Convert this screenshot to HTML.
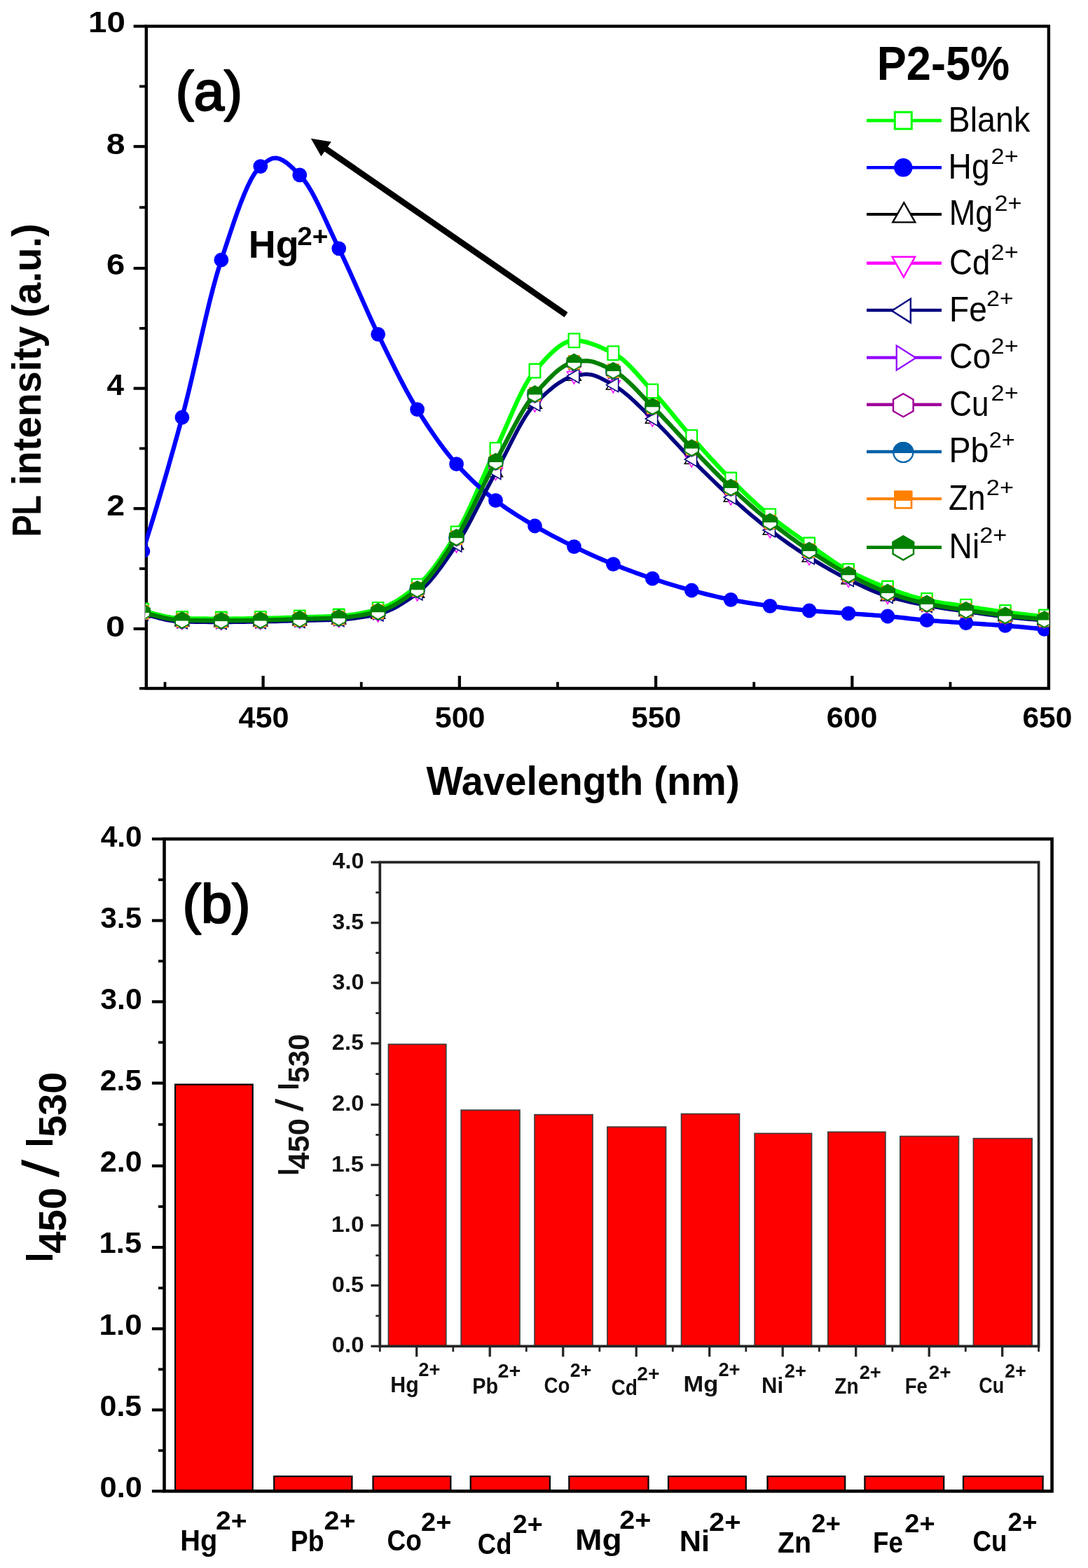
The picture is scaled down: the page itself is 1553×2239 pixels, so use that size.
<!DOCTYPE html>
<html lang="en">
<head>
<meta charset="utf-8">
<title>PL spectra and intensity ratio of P2-5% with metal ions</title>
<style>
html,body{margin:0;padding:0;background:#fff;}
svg{display:block;}
text{font-family:"Liberation Sans",sans-serif;}
</style>
</head>
<body>
<svg width="1553" height="2239" viewBox="0 0 1553 2239">
<rect x="0" y="0" width="1553" height="2239" fill="#fff"/>
<rect x="208.8" y="37.5" width="1288.1" height="945.5" fill="none" stroke="#000" stroke-width="4.4"/>
<line x1="199" y1="983" x2="208.8" y2="983" stroke="#000" stroke-width="3.8"/>
<line x1="190.6" y1="897.9" x2="208.8" y2="897.9" stroke="#000" stroke-width="4.2"/>
<line x1="199" y1="812.05" x2="208.8" y2="812.05" stroke="#000" stroke-width="3.8"/>
<line x1="190.6" y1="726.2" x2="208.8" y2="726.2" stroke="#000" stroke-width="4.2"/>
<line x1="199" y1="640.4" x2="208.8" y2="640.4" stroke="#000" stroke-width="3.8"/>
<line x1="190.6" y1="554.6" x2="208.8" y2="554.6" stroke="#000" stroke-width="4.2"/>
<line x1="199" y1="468.85" x2="208.8" y2="468.85" stroke="#000" stroke-width="3.8"/>
<line x1="190.6" y1="383.1" x2="208.8" y2="383.1" stroke="#000" stroke-width="4.2"/>
<line x1="199" y1="296.15" x2="208.8" y2="296.15" stroke="#000" stroke-width="3.8"/>
<line x1="190.6" y1="209.2" x2="208.8" y2="209.2" stroke="#000" stroke-width="4.2"/>
<line x1="199" y1="123.35" x2="208.8" y2="123.35" stroke="#000" stroke-width="3.8"/>
<line x1="190.6" y1="37.5" x2="208.8" y2="37.5" stroke="#000" stroke-width="4.2"/>
<line x1="235.48" y1="983" x2="235.48" y2="973.8" stroke="#000" stroke-width="3.8"/>
<line x1="375.6" y1="983" x2="375.6" y2="965" stroke="#000" stroke-width="4.2"/>
<line x1="515.73" y1="983" x2="515.73" y2="973.8" stroke="#000" stroke-width="3.8"/>
<line x1="655.85" y1="983" x2="655.85" y2="965" stroke="#000" stroke-width="4.2"/>
<line x1="795.98" y1="983" x2="795.98" y2="973.8" stroke="#000" stroke-width="3.8"/>
<line x1="936.1" y1="983" x2="936.1" y2="965" stroke="#000" stroke-width="4.2"/>
<line x1="1076.22" y1="983" x2="1076.22" y2="973.8" stroke="#000" stroke-width="3.8"/>
<line x1="1216.35" y1="983" x2="1216.35" y2="965" stroke="#000" stroke-width="4.2"/>
<line x1="1356.48" y1="983" x2="1356.48" y2="973.8" stroke="#000" stroke-width="3.8"/>
<defs><clipPath id="clipA"><rect x="207.6" y="39.5" width="1289.7" height="941.5"/></clipPath></defs>
<g clip-path="url(#clipA)" fill="none" stroke-linejoin="round">
<path d="M203.95,871.6 208.95,873.11 213.95,874.6 218.95,876.03 223.95,877.39 228.95,878.65 233.95,879.81 238.95,880.82 243.95,881.68 248.95,882.35 253.95,882.83 258.95,883.08 263.95,883.17 268.95,883.24 273.95,883.31 278.95,883.38 283.95,883.43 288.95,883.48 293.95,883.52 298.95,883.55 303.95,883.58 308.95,883.59 313.95,883.6 318.95,883.6 323.95,883.58 328.95,883.55 333.95,883.51 338.95,883.46 343.95,883.41 348.95,883.34 353.95,883.27 358.95,883.2 363.95,883.12 368.95,883.04 373.95,882.96 378.95,882.87 383.95,882.75 388.95,882.62 393.95,882.48 398.95,882.33 403.95,882.17 408.95,882.01 413.95,881.84 418.95,881.68 423.95,881.52 428.95,881.36 433.95,881.22 438.95,881.09 443.95,880.97 448.95,880.84 453.95,880.71 458.95,880.58 463.95,880.43 468.95,880.26 473.95,880.06 478.95,879.84 483.95,879.59 488.95,879.25 493.95,878.79 498.95,878.22 503.95,877.54 508.95,876.75 513.95,875.87 518.95,874.9 523.95,873.84 528.95,872.7 533.95,871.48 538.95,870.19 543.95,868.71 548.95,866.87 553.95,864.69 558.95,862.19 563.95,859.4 568.95,856.34 573.95,853.03 578.95,849.51 583.95,845.79 588.95,841.9 593.95,837.86 598.95,833.59 603.95,828.73 608.95,823.32 613.95,817.39 618.95,811.01 623.95,804.21 628.95,797.05 633.95,789.57 638.95,781.84 643.95,773.89 648.95,765.77 653.95,757.44 658.95,748.36 663.95,738.55 668.95,728.13 673.95,717.24 678.95,706.02 683.95,694.59 688.95,683.09 693.95,671.65 698.95,660.4 703.95,649.48 708.95,638.97 713.95,628.15 718.95,616.89 723.95,605.41 728.95,593.9 733.95,582.55 738.95,571.56 743.95,561.14 748.95,551.48 753.95,542.78 758.95,535.23 763.95,529.04 768.95,523.42 773.95,517.83 778.95,512.39 783.95,507.18 788.95,502.32 793.95,497.91 798.95,494.05 803.95,490.84 808.95,488.4 813.95,486.82 818.95,486.2 823.95,486.37 828.95,486.95 833.95,487.88 838.95,489.13 843.95,490.67 848.95,492.44 853.95,494.43 858.95,496.57 863.95,498.85 868.95,501.21 873.95,503.62 878.95,506.24 883.95,509.54 888.95,513.46 893.95,517.91 898.95,522.78 903.95,528 908.95,533.46 913.95,539.07 918.95,544.74 923.95,550.37 928.95,555.88 933.95,561.24 938.95,566.77 943.95,572.48 948.95,578.34 953.95,584.31 958.95,590.34 963.95,596.41 968.95,602.47 973.95,608.49 978.95,614.43 983.95,620.25 988.95,625.91 993.95,631.54 998.95,637.15 1003.95,642.73 1008.95,648.28 1013.95,653.79 1018.95,659.24 1023.95,664.63 1028.95,669.94 1033.95,675.18 1038.95,680.31 1043.95,685.35 1048.95,690.32 1053.95,695.25 1058.95,700.14 1063.95,704.96 1068.95,709.71 1073.95,714.39 1078.95,718.98 1083.95,723.48 1088.95,727.88 1093.95,732.17 1098.95,736.34 1103.95,740.38 1108.95,744.32 1113.95,748.15 1118.95,751.91 1123.95,755.59 1128.95,759.2 1133.95,762.77 1138.95,766.3 1143.95,769.81 1148.95,773.3 1153.95,776.8 1158.95,780.31 1163.95,783.88 1168.95,787.46 1173.95,791.04 1178.95,794.59 1183.95,798.09 1188.95,801.51 1193.95,804.82 1198.95,808 1203.95,811.03 1208.95,813.87 1213.95,816.52 1218.95,819.07 1223.95,821.54 1228.95,823.92 1233.95,826.21 1238.95,828.43 1243.95,830.57 1248.95,832.65 1253.95,834.65 1258.95,836.6 1263.95,838.48 1268.95,840.31 1273.95,842.12 1278.95,843.92 1283.95,845.68 1288.95,847.39 1293.95,849.05 1298.95,850.65 1303.95,852.16 1308.95,853.59 1313.95,854.91 1318.95,856.12 1323.95,857.21 1328.95,858.19 1333.95,859.11 1338.95,859.96 1343.95,860.75 1348.95,861.51 1353.95,862.24 1358.95,862.94 1363.95,863.64 1368.95,864.35 1373.95,865.06 1378.95,865.81 1383.95,866.57 1388.95,867.33 1393.95,868.1 1398.95,868.86 1403.95,869.62 1408.95,870.36 1413.95,871.1 1418.95,871.82 1423.95,872.53 1428.95,873.22 1433.95,873.88 1438.95,874.52 1443.95,875.14 1448.95,875.74 1453.95,876.33 1458.95,876.9 1463.95,877.47 1468.95,878.03 1473.95,878.59 1478.95,879.15 1483.95,879.71 1488.95,880.29 1493.95,880.87 1498.95,881.45" stroke="#00ff00" stroke-width="6.3"/>
<rect x="196.1" y="861.75" width="15.7" height="19.7" fill="#fff" stroke="#00ff00" stroke-width="2.3"/>
<rect x="252.05" y="873.25" width="15.7" height="19.7" fill="#fff" stroke="#00ff00" stroke-width="2.3"/>
<rect x="308" y="873.75" width="15.7" height="19.7" fill="#fff" stroke="#00ff00" stroke-width="2.3"/>
<rect x="363.95" y="873.15" width="15.7" height="19.7" fill="#fff" stroke="#00ff00" stroke-width="2.3"/>
<rect x="419.9" y="871.55" width="15.7" height="19.7" fill="#fff" stroke="#00ff00" stroke-width="2.3"/>
<rect x="475.85" y="869.75" width="15.7" height="19.7" fill="#fff" stroke="#00ff00" stroke-width="2.3"/>
<rect x="531.8" y="860.15" width="15.7" height="19.7" fill="#fff" stroke="#00ff00" stroke-width="2.3"/>
<rect x="587.75" y="826.65" width="15.7" height="19.7" fill="#fff" stroke="#00ff00" stroke-width="2.3"/>
<rect x="643.7" y="751.65" width="15.7" height="19.7" fill="#fff" stroke="#00ff00" stroke-width="2.3"/>
<rect x="699.65" y="632.15" width="15.7" height="19.7" fill="#fff" stroke="#00ff00" stroke-width="2.3"/>
<rect x="755.6" y="519.75" width="15.7" height="19.7" fill="#fff" stroke="#00ff00" stroke-width="2.3"/>
<rect x="811.55" y="476.35" width="15.7" height="19.7" fill="#fff" stroke="#00ff00" stroke-width="2.3"/>
<rect x="867.5" y="494.45" width="15.7" height="19.7" fill="#fff" stroke="#00ff00" stroke-width="2.3"/>
<rect x="923.45" y="548.55" width="15.7" height="19.7" fill="#fff" stroke="#00ff00" stroke-width="2.3"/>
<rect x="979.4" y="614.15" width="15.7" height="19.7" fill="#fff" stroke="#00ff00" stroke-width="2.3"/>
<rect x="1035.35" y="674.75" width="15.7" height="19.7" fill="#fff" stroke="#00ff00" stroke-width="2.3"/>
<rect x="1091.3" y="726.65" width="15.7" height="19.7" fill="#fff" stroke="#00ff00" stroke-width="2.3"/>
<rect x="1147.25" y="767.75" width="15.7" height="19.7" fill="#fff" stroke="#00ff00" stroke-width="2.3"/>
<rect x="1203.2" y="805.15" width="15.7" height="19.7" fill="#fff" stroke="#00ff00" stroke-width="2.3"/>
<rect x="1259.15" y="829.75" width="15.7" height="19.7" fill="#fff" stroke="#00ff00" stroke-width="2.3"/>
<rect x="1315.1" y="847.15" width="15.7" height="19.7" fill="#fff" stroke="#00ff00" stroke-width="2.3"/>
<rect x="1371.05" y="855.95" width="15.7" height="19.7" fill="#fff" stroke="#00ff00" stroke-width="2.3"/>
<rect x="1427" y="864.15" width="15.7" height="19.7" fill="#fff" stroke="#00ff00" stroke-width="2.3"/>
<rect x="1482.95" y="870.65" width="15.7" height="19.7" fill="#fff" stroke="#00ff00" stroke-width="2.3"/>
<path d="M203.95,787 208.95,771.3 213.95,755.31 218.95,739.04 223.95,722.49 228.95,705.68 233.95,688.61 238.95,671.28 243.95,653.69 248.95,635.87 253.95,617.8 258.95,599.5 263.95,580.59 268.95,560.46 273.95,539.42 278.95,517.79 283.95,495.9 288.95,474.06 293.95,452.6 298.95,431.85 303.95,412.12 308.95,393.75 313.95,377.04 318.95,361.87 323.95,346.71 328.95,331.62 333.95,316.83 338.95,302.56 343.95,289.02 348.95,276.46 353.95,265.09 358.95,255.13 363.95,246.81 368.95,240.36 373.95,235.79 378.95,231.75 383.95,228.38 388.95,226.18 393.95,225.64 398.95,226.71 403.95,229.05 408.95,232.4 413.95,236.52 418.95,241.16 423.95,246.06 428.95,251.01 433.95,256.94 438.95,264.11 443.95,272.36 448.95,281.51 453.95,291.36 458.95,301.75 463.95,312.48 468.95,323.39 473.95,334.28 478.95,344.98 483.95,355.31 488.95,365.63 493.95,376.31 498.95,387.26 503.95,398.42 508.95,409.7 513.95,421.04 518.95,432.35 523.95,443.56 528.95,454.6 533.95,465.39 538.95,475.86 543.95,486.11 548.95,496.36 553.95,506.58 558.95,516.72 563.95,526.74 568.95,536.61 573.95,546.27 578.95,555.68 583.95,564.8 588.95,573.59 593.95,582.01 598.95,590.08 603.95,597.97 608.95,605.7 613.95,613.24 618.95,620.59 623.95,627.72 628.95,634.64 633.95,641.31 638.95,647.73 643.95,653.88 648.95,659.76 653.95,665.36 658.95,670.75 663.95,675.97 668.95,681.02 673.95,685.9 678.95,690.62 683.95,695.18 688.95,699.59 693.95,703.85 698.95,707.97 703.95,711.95 708.95,715.8 713.95,719.51 718.95,723.09 723.95,726.54 728.95,729.89 733.95,733.14 738.95,736.31 743.95,739.41 748.95,742.44 753.95,745.42 758.95,748.37 763.95,751.29 768.95,754.17 773.95,757 778.95,759.77 783.95,762.5 788.95,765.18 793.95,767.81 798.95,770.4 803.95,772.95 808.95,775.46 813.95,777.94 818.95,780.38 823.95,782.79 828.95,785.17 833.95,787.52 838.95,789.84 843.95,792.12 848.95,794.37 853.95,796.58 858.95,798.75 863.95,800.89 868.95,802.98 873.95,805.03 878.95,807.05 883.95,809.03 888.95,810.98 893.95,812.9 898.95,814.78 903.95,816.64 908.95,818.46 913.95,820.25 918.95,822.01 923.95,823.73 928.95,825.42 933.95,827.07 938.95,828.7 943.95,830.31 948.95,831.89 953.95,833.44 958.95,834.96 963.95,836.45 968.95,837.92 973.95,839.35 978.95,840.75 983.95,842.12 988.95,843.45 993.95,844.77 998.95,846.07 1003.95,847.35 1008.95,848.61 1013.95,849.85 1018.95,851.05 1023.95,852.21 1028.95,853.34 1033.95,854.42 1038.95,855.46 1043.95,856.44 1048.95,857.39 1053.95,858.31 1058.95,859.19 1063.95,860.05 1068.95,860.88 1073.95,861.69 1078.95,862.47 1083.95,863.23 1088.95,863.96 1093.95,864.68 1098.95,865.37 1103.95,866.05 1108.95,866.72 1113.95,867.38 1118.95,868.03 1123.95,868.66 1128.95,869.26 1133.95,869.85 1138.95,870.41 1143.95,870.93 1148.95,871.43 1153.95,871.9 1158.95,872.33 1163.95,872.73 1168.95,873.1 1173.95,873.46 1178.95,873.79 1183.95,874.12 1188.95,874.44 1193.95,874.76 1198.95,875.08 1203.95,875.41 1208.95,875.75 1213.95,876.11 1218.95,876.46 1223.95,876.8 1228.95,877.15 1233.95,877.5 1238.95,877.85 1243.95,878.21 1248.95,878.57 1253.95,878.95 1258.95,879.34 1263.95,879.74 1268.95,880.17 1273.95,880.63 1278.95,881.13 1283.95,881.66 1288.95,882.2 1293.95,882.75 1298.95,883.31 1303.95,883.85 1308.95,884.38 1313.95,884.88 1318.95,885.35 1323.95,885.78 1328.95,886.18 1333.95,886.56 1338.95,886.92 1343.95,887.28 1348.95,887.62 1353.95,887.95 1358.95,888.28 1363.95,888.6 1368.95,888.93 1373.95,889.26 1378.95,889.6 1383.95,889.94 1388.95,890.28 1393.95,890.6 1398.95,890.93 1403.95,891.25 1408.95,891.58 1413.95,891.91 1418.95,892.25 1423.95,892.6 1428.95,892.96 1433.95,893.33 1438.95,893.72 1443.95,894.13 1448.95,894.55 1453.95,894.98 1458.95,895.42 1463.95,895.87 1468.95,896.33 1473.95,896.79 1478.95,897.24 1483.95,897.69 1488.95,898.14 1493.95,898.58 1498.95,899.01" stroke="#0000ff" stroke-width="6.3"/>
<circle cx="203.95" cy="787" r="10.4" fill="#0000ff"/>
<circle cx="259.9" cy="596" r="10.4" fill="#0000ff"/>
<circle cx="315.85" cy="371.2" r="10.4" fill="#0000ff"/>
<circle cx="371.8" cy="237.6" r="10.4" fill="#0000ff"/>
<circle cx="427.75" cy="249.8" r="10.4" fill="#0000ff"/>
<circle cx="483.7" cy="354.8" r="10.4" fill="#0000ff"/>
<circle cx="539.65" cy="477.3" r="10.4" fill="#0000ff"/>
<circle cx="595.6" cy="584.7" r="10.4" fill="#0000ff"/>
<circle cx="651.55" cy="662.7" r="10.4" fill="#0000ff"/>
<circle cx="707.5" cy="714.7" r="10.4" fill="#0000ff"/>
<circle cx="763.45" cy="751" r="10.4" fill="#0000ff"/>
<circle cx="819.4" cy="780.6" r="10.4" fill="#0000ff"/>
<circle cx="875.35" cy="805.6" r="10.4" fill="#0000ff"/>
<circle cx="931.3" cy="826.2" r="10.4" fill="#0000ff"/>
<circle cx="987.25" cy="843" r="10.4" fill="#0000ff"/>
<circle cx="1043.2" cy="856.3" r="10.4" fill="#0000ff"/>
<circle cx="1099.15" cy="865.4" r="10.4" fill="#0000ff"/>
<circle cx="1155.1" cy="872" r="10.4" fill="#0000ff"/>
<circle cx="1211.05" cy="875.9" r="10.4" fill="#0000ff"/>
<circle cx="1267" cy="880" r="10.4" fill="#0000ff"/>
<circle cx="1322.95" cy="885.7" r="10.4" fill="#0000ff"/>
<circle cx="1378.9" cy="889.6" r="10.4" fill="#0000ff"/>
<circle cx="1434.85" cy="893.4" r="10.4" fill="#0000ff"/>
<circle cx="1490.8" cy="898.3" r="10.4" fill="#0000ff"/>
<path d="M203.95,876 208.95,877.55 213.95,879.06 218.95,880.53 223.95,881.92 228.95,883.22 233.95,884.39 238.95,885.43 243.95,886.31 248.95,887.01 253.95,887.51 258.95,887.78 263.95,887.88 268.95,887.97 273.95,888.06 278.95,888.13 283.95,888.2 288.95,888.25 293.95,888.3 298.95,888.34 303.95,888.37 308.95,888.39 313.95,888.4 318.95,888.4 323.95,888.38 328.95,888.35 333.95,888.31 338.95,888.26 343.95,888.2 348.95,888.14 353.95,888.07 358.95,887.99 363.95,887.92 368.95,887.84 373.95,887.77 378.95,887.68 383.95,887.57 388.95,887.46 393.95,887.34 398.95,887.2 403.95,887.07 408.95,886.93 413.95,886.78 418.95,886.64 423.95,886.5 428.95,886.37 433.95,886.24 438.95,886.13 443.95,886.02 448.95,885.9 453.95,885.79 458.95,885.66 463.95,885.53 468.95,885.38 473.95,885.21 478.95,885.01 483.95,884.79 488.95,884.5 493.95,884.13 498.95,883.66 503.95,883.12 508.95,882.49 513.95,881.78 518.95,881 523.95,880.15 528.95,879.22 533.95,878.22 538.95,877.15 543.95,875.91 548.95,874.32 553.95,872.4 558.95,870.18 563.95,867.68 568.95,864.93 573.95,861.94 578.95,858.76 583.95,855.39 588.95,851.88 593.95,848.23 598.95,844.35 603.95,839.9 608.95,834.89 613.95,829.39 618.95,823.46 623.95,817.14 628.95,810.5 633.95,803.59 638.95,796.47 643.95,789.21 648.95,781.85 653.95,774.37 658.95,766.33 663.95,757.72 668.95,748.66 673.95,739.25 678.95,729.58 683.95,719.75 688.95,709.88 693.95,700.06 698.95,690.39 703.95,680.97 708.95,671.87 713.95,662.52 718.95,652.81 723.95,642.92 728.95,633 733.95,623.22 738.95,613.74 743.95,604.72 748.95,596.32 753.95,588.71 758.95,582.05 763.95,576.49 768.95,571.48 773.95,566.61 778.95,561.93 783.95,557.48 788.95,553.32 793.95,549.49 798.95,546.05 803.95,543.04 808.95,540.51 813.95,538.51 818.95,537.1 823.95,536.06 828.95,535.17 833.95,534.57 838.95,534.42 843.95,535.01 848.95,536.36 853.95,538.3 858.95,540.69 863.95,543.37 868.95,546.2 873.95,549.03 878.95,551.89 883.95,555.17 888.95,558.85 893.95,562.87 898.95,567.18 903.95,571.71 908.95,576.41 913.95,581.22 918.95,586.09 923.95,590.96 928.95,595.77 933.95,600.52 938.95,605.42 943.95,610.47 948.95,615.65 953.95,620.91 958.95,626.24 963.95,631.6 968.95,636.95 973.95,642.27 978.95,647.52 983.95,652.67 988.95,657.7 993.95,662.69 998.95,667.67 1003.95,672.64 1008.95,677.57 1013.95,682.47 1018.95,687.32 1023.95,692.12 1028.95,696.87 1033.95,701.55 1038.95,706.15 1043.95,710.67 1048.95,715.14 1053.95,719.57 1058.95,723.96 1063.95,728.3 1068.95,732.58 1073.95,736.81 1078.95,740.96 1083.95,745.05 1088.95,749.07 1093.95,753 1098.95,756.85 1103.95,760.62 1108.95,764.34 1113.95,768 1118.95,771.6 1123.95,775.14 1128.95,778.62 1133.95,782.04 1138.95,785.4 1143.95,788.69 1148.95,791.92 1153.95,795.08 1158.95,798.19 1163.95,801.25 1168.95,804.27 1173.95,807.25 1178.95,810.17 1183.95,813.04 1188.95,815.85 1193.95,818.59 1198.95,821.26 1203.95,823.85 1208.95,826.37 1213.95,828.81 1218.95,831.25 1223.95,833.67 1228.95,836.05 1233.95,838.38 1238.95,840.65 1243.95,842.83 1248.95,844.92 1253.95,846.89 1258.95,848.74 1263.95,850.44 1268.95,851.99 1273.95,853.44 1278.95,854.83 1283.95,856.14 1288.95,857.39 1293.95,858.59 1298.95,859.73 1303.95,860.82 1308.95,861.87 1313.95,862.88 1318.95,863.85 1323.95,864.79 1328.95,865.68 1333.95,866.54 1338.95,867.36 1343.95,868.15 1348.95,868.91 1353.95,869.65 1358.95,870.38 1363.95,871.09 1368.95,871.8 1373.95,872.5 1378.95,873.21 1383.95,873.92 1388.95,874.62 1393.95,875.32 1398.95,876.02 1403.95,876.7 1408.95,877.38 1413.95,878.03 1418.95,878.68 1423.95,879.3 1428.95,879.91 1433.95,880.5 1438.95,881.06 1443.95,881.6 1448.95,882.12 1453.95,882.63 1458.95,883.12 1463.95,883.61 1468.95,884.09 1473.95,884.56 1478.95,885.04 1483.95,885.52 1488.95,886.02 1493.95,886.52 1498.95,887.02" stroke="#000000" stroke-width="3"/>
<polygon points="203.95,865 213.91,882.25 193.99,882.25" fill="#fff" stroke="#000" stroke-width="1.5" stroke-linejoin="miter"/>
<polygon points="259.9,876.8 269.86,894.05 249.94,894.05" fill="#fff" stroke="#000" stroke-width="1.5" stroke-linejoin="miter"/>
<polygon points="315.85,877.4 325.81,894.65 305.89,894.65" fill="#fff" stroke="#000" stroke-width="1.5" stroke-linejoin="miter"/>
<polygon points="371.8,876.8 381.76,894.05 361.84,894.05" fill="#fff" stroke="#000" stroke-width="1.5" stroke-linejoin="miter"/>
<polygon points="427.75,875.4 437.71,892.65 417.79,892.65" fill="#fff" stroke="#000" stroke-width="1.5" stroke-linejoin="miter"/>
<polygon points="483.7,873.8 493.66,891.05 473.74,891.05" fill="#fff" stroke="#000" stroke-width="1.5" stroke-linejoin="miter"/>
<polygon points="539.65,866 549.61,883.25 529.69,883.25" fill="#fff" stroke="#000" stroke-width="1.5" stroke-linejoin="miter"/>
<polygon points="595.6,836 605.56,853.25 585.64,853.25" fill="#fff" stroke="#000" stroke-width="1.5" stroke-linejoin="miter"/>
<polygon points="651.55,767 661.51,784.25 641.59,784.25" fill="#fff" stroke="#000" stroke-width="1.5" stroke-linejoin="miter"/>
<polygon points="707.5,663.5 717.46,680.75 697.54,680.75" fill="#fff" stroke="#000" stroke-width="1.5" stroke-linejoin="miter"/>
<polygon points="763.45,566 773.41,583.25 753.49,583.25" fill="#fff" stroke="#000" stroke-width="1.5" stroke-linejoin="miter"/>
<polygon points="819.4,526 829.36,543.25 809.44,543.25" fill="#fff" stroke="#000" stroke-width="1.5" stroke-linejoin="miter"/>
<polygon points="875.35,538.8 885.31,556.05 865.39,556.05" fill="#fff" stroke="#000" stroke-width="1.5" stroke-linejoin="miter"/>
<polygon points="931.3,587 941.26,604.25 921.34,604.25" fill="#fff" stroke="#000" stroke-width="1.5" stroke-linejoin="miter"/>
<polygon points="987.25,645 997.21,662.25 977.29,662.25" fill="#fff" stroke="#000" stroke-width="1.5" stroke-linejoin="miter"/>
<polygon points="1043.2,699 1053.16,716.25 1033.24,716.25" fill="#fff" stroke="#000" stroke-width="1.5" stroke-linejoin="miter"/>
<polygon points="1099.15,746 1109.11,763.25 1089.19,763.25" fill="#fff" stroke="#000" stroke-width="1.5" stroke-linejoin="miter"/>
<polygon points="1155.1,784.8 1165.06,802.05 1145.14,802.05" fill="#fff" stroke="#000" stroke-width="1.5" stroke-linejoin="miter"/>
<polygon points="1211.05,816.4 1221.01,833.65 1201.09,833.65" fill="#fff" stroke="#000" stroke-width="1.5" stroke-linejoin="miter"/>
<polygon points="1267,840.4 1276.96,857.65 1257.04,857.65" fill="#fff" stroke="#000" stroke-width="1.5" stroke-linejoin="miter"/>
<polygon points="1322.95,853.6 1332.91,870.85 1312.99,870.85" fill="#fff" stroke="#000" stroke-width="1.5" stroke-linejoin="miter"/>
<polygon points="1378.9,862.2 1388.86,879.45 1368.94,879.45" fill="#fff" stroke="#000" stroke-width="1.5" stroke-linejoin="miter"/>
<polygon points="1434.85,869.6 1444.81,886.85 1424.89,886.85" fill="#fff" stroke="#000" stroke-width="1.5" stroke-linejoin="miter"/>
<polygon points="1490.8,875.2 1500.76,892.45 1480.84,892.45" fill="#fff" stroke="#000" stroke-width="1.5" stroke-linejoin="miter"/>
<path d="M203.95,876 208.95,877.55 213.95,879.06 218.95,880.53 223.95,881.92 228.95,883.22 233.95,884.39 238.95,885.43 243.95,886.31 248.95,887.01 253.95,887.51 258.95,887.78 263.95,887.88 268.95,887.97 273.95,888.06 278.95,888.13 283.95,888.2 288.95,888.25 293.95,888.3 298.95,888.34 303.95,888.37 308.95,888.39 313.95,888.4 318.95,888.4 323.95,888.38 328.95,888.35 333.95,888.31 338.95,888.26 343.95,888.2 348.95,888.14 353.95,888.07 358.95,887.99 363.95,887.92 368.95,887.84 373.95,887.77 378.95,887.68 383.95,887.57 388.95,887.46 393.95,887.34 398.95,887.2 403.95,887.07 408.95,886.93 413.95,886.78 418.95,886.64 423.95,886.5 428.95,886.37 433.95,886.24 438.95,886.13 443.95,886.02 448.95,885.9 453.95,885.79 458.95,885.66 463.95,885.53 468.95,885.38 473.95,885.21 478.95,885.01 483.95,884.79 488.95,884.5 493.95,884.13 498.95,883.66 503.95,883.12 508.95,882.49 513.95,881.78 518.95,881 523.95,880.15 528.95,879.22 533.95,878.22 538.95,877.15 543.95,875.91 548.95,874.32 553.95,872.4 558.95,870.18 563.95,867.68 568.95,864.93 573.95,861.94 578.95,858.76 583.95,855.39 588.95,851.88 593.95,848.23 598.95,844.35 603.95,839.9 608.95,834.89 613.95,829.39 618.95,823.46 623.95,817.14 628.95,810.5 633.95,803.59 638.95,796.47 643.95,789.21 648.95,781.85 653.95,774.37 658.95,766.33 663.95,757.72 668.95,748.66 673.95,739.25 678.95,729.58 683.95,719.75 688.95,709.88 693.95,700.06 698.95,690.39 703.95,680.97 708.95,671.87 713.95,662.52 718.95,652.81 723.95,642.92 728.95,633 733.95,623.22 738.95,613.74 743.95,604.72 748.95,596.32 753.95,588.71 758.95,582.05 763.95,576.49 768.95,571.48 773.95,566.61 778.95,561.93 783.95,557.48 788.95,553.32 793.95,549.49 798.95,546.05 803.95,543.04 808.95,540.51 813.95,538.51 818.95,537.1 823.95,536.06 828.95,535.17 833.95,534.57 838.95,534.42 843.95,535.01 848.95,536.36 853.95,538.3 858.95,540.69 863.95,543.37 868.95,546.2 873.95,549.03 878.95,551.89 883.95,555.17 888.95,558.85 893.95,562.87 898.95,567.18 903.95,571.71 908.95,576.41 913.95,581.22 918.95,586.09 923.95,590.96 928.95,595.77 933.95,600.52 938.95,605.42 943.95,610.47 948.95,615.65 953.95,620.91 958.95,626.24 963.95,631.6 968.95,636.95 973.95,642.27 978.95,647.52 983.95,652.67 988.95,657.7 993.95,662.69 998.95,667.67 1003.95,672.64 1008.95,677.57 1013.95,682.47 1018.95,687.32 1023.95,692.12 1028.95,696.87 1033.95,701.55 1038.95,706.15 1043.95,710.67 1048.95,715.14 1053.95,719.57 1058.95,723.96 1063.95,728.3 1068.95,732.58 1073.95,736.81 1078.95,740.96 1083.95,745.05 1088.95,749.07 1093.95,753 1098.95,756.85 1103.95,760.62 1108.95,764.34 1113.95,768 1118.95,771.6 1123.95,775.14 1128.95,778.62 1133.95,782.04 1138.95,785.4 1143.95,788.69 1148.95,791.92 1153.95,795.08 1158.95,798.19 1163.95,801.25 1168.95,804.27 1173.95,807.25 1178.95,810.17 1183.95,813.04 1188.95,815.85 1193.95,818.59 1198.95,821.26 1203.95,823.85 1208.95,826.37 1213.95,828.81 1218.95,831.25 1223.95,833.67 1228.95,836.05 1233.95,838.38 1238.95,840.65 1243.95,842.83 1248.95,844.92 1253.95,846.89 1258.95,848.74 1263.95,850.44 1268.95,851.99 1273.95,853.44 1278.95,854.83 1283.95,856.14 1288.95,857.39 1293.95,858.59 1298.95,859.73 1303.95,860.82 1308.95,861.87 1313.95,862.88 1318.95,863.85 1323.95,864.79 1328.95,865.68 1333.95,866.54 1338.95,867.36 1343.95,868.15 1348.95,868.91 1353.95,869.65 1358.95,870.38 1363.95,871.09 1368.95,871.8 1373.95,872.5 1378.95,873.21 1383.95,873.92 1388.95,874.62 1393.95,875.32 1398.95,876.02 1403.95,876.7 1408.95,877.38 1413.95,878.03 1418.95,878.68 1423.95,879.3 1428.95,879.91 1433.95,880.5 1438.95,881.06 1443.95,881.6 1448.95,882.12 1453.95,882.63 1458.95,883.12 1463.95,883.61 1468.95,884.09 1473.95,884.56 1478.95,885.04 1483.95,885.52 1488.95,886.02 1493.95,886.52 1498.95,887.02" stroke="#ff00ff" stroke-width="3"/>
<polygon points="203.95,887 193.99,869.75 213.91,869.75" fill="#fff" stroke="#ff00ff" stroke-width="1.5" stroke-linejoin="miter"/>
<polygon points="259.9,898.8 249.94,881.55 269.86,881.55" fill="#fff" stroke="#ff00ff" stroke-width="1.5" stroke-linejoin="miter"/>
<polygon points="315.85,899.4 305.89,882.15 325.81,882.15" fill="#fff" stroke="#ff00ff" stroke-width="1.5" stroke-linejoin="miter"/>
<polygon points="371.8,898.8 361.84,881.55 381.76,881.55" fill="#fff" stroke="#ff00ff" stroke-width="1.5" stroke-linejoin="miter"/>
<polygon points="427.75,897.4 417.79,880.15 437.71,880.15" fill="#fff" stroke="#ff00ff" stroke-width="1.5" stroke-linejoin="miter"/>
<polygon points="483.7,895.8 473.74,878.55 493.66,878.55" fill="#fff" stroke="#ff00ff" stroke-width="1.5" stroke-linejoin="miter"/>
<polygon points="539.65,888 529.69,870.75 549.61,870.75" fill="#fff" stroke="#ff00ff" stroke-width="1.5" stroke-linejoin="miter"/>
<polygon points="595.6,858 585.64,840.75 605.56,840.75" fill="#fff" stroke="#ff00ff" stroke-width="1.5" stroke-linejoin="miter"/>
<polygon points="651.55,789 641.59,771.75 661.51,771.75" fill="#fff" stroke="#ff00ff" stroke-width="1.5" stroke-linejoin="miter"/>
<polygon points="707.5,685.5 697.54,668.25 717.46,668.25" fill="#fff" stroke="#ff00ff" stroke-width="1.5" stroke-linejoin="miter"/>
<polygon points="763.45,588 753.49,570.75 773.41,570.75" fill="#fff" stroke="#ff00ff" stroke-width="1.5" stroke-linejoin="miter"/>
<polygon points="819.4,548 809.44,530.75 829.36,530.75" fill="#fff" stroke="#ff00ff" stroke-width="1.5" stroke-linejoin="miter"/>
<polygon points="875.35,560.8 865.39,543.55 885.31,543.55" fill="#fff" stroke="#ff00ff" stroke-width="1.5" stroke-linejoin="miter"/>
<polygon points="931.3,609 921.34,591.75 941.26,591.75" fill="#fff" stroke="#ff00ff" stroke-width="1.5" stroke-linejoin="miter"/>
<polygon points="987.25,667 977.29,649.75 997.21,649.75" fill="#fff" stroke="#ff00ff" stroke-width="1.5" stroke-linejoin="miter"/>
<polygon points="1043.2,721 1033.24,703.75 1053.16,703.75" fill="#fff" stroke="#ff00ff" stroke-width="1.5" stroke-linejoin="miter"/>
<polygon points="1099.15,768 1089.19,750.75 1109.11,750.75" fill="#fff" stroke="#ff00ff" stroke-width="1.5" stroke-linejoin="miter"/>
<polygon points="1155.1,806.8 1145.14,789.55 1165.06,789.55" fill="#fff" stroke="#ff00ff" stroke-width="1.5" stroke-linejoin="miter"/>
<polygon points="1211.05,838.4 1201.09,821.15 1221.01,821.15" fill="#fff" stroke="#ff00ff" stroke-width="1.5" stroke-linejoin="miter"/>
<polygon points="1267,862.4 1257.04,845.15 1276.96,845.15" fill="#fff" stroke="#ff00ff" stroke-width="1.5" stroke-linejoin="miter"/>
<polygon points="1322.95,875.6 1312.99,858.35 1332.91,858.35" fill="#fff" stroke="#ff00ff" stroke-width="1.5" stroke-linejoin="miter"/>
<polygon points="1378.9,884.2 1368.94,866.95 1388.86,866.95" fill="#fff" stroke="#ff00ff" stroke-width="1.5" stroke-linejoin="miter"/>
<polygon points="1434.85,891.6 1424.89,874.35 1444.81,874.35" fill="#fff" stroke="#ff00ff" stroke-width="1.5" stroke-linejoin="miter"/>
<polygon points="1490.8,897.2 1480.84,879.95 1500.76,879.95" fill="#fff" stroke="#ff00ff" stroke-width="1.5" stroke-linejoin="miter"/>
<path d="M203.95,876 208.95,877.55 213.95,879.06 218.95,880.53 223.95,881.92 228.95,883.22 233.95,884.39 238.95,885.43 243.95,886.31 248.95,887.01 253.95,887.51 258.95,887.78 263.95,887.88 268.95,887.97 273.95,888.06 278.95,888.13 283.95,888.2 288.95,888.25 293.95,888.3 298.95,888.34 303.95,888.37 308.95,888.39 313.95,888.4 318.95,888.4 323.95,888.38 328.95,888.35 333.95,888.31 338.95,888.26 343.95,888.2 348.95,888.14 353.95,888.07 358.95,887.99 363.95,887.92 368.95,887.84 373.95,887.77 378.95,887.68 383.95,887.57 388.95,887.46 393.95,887.34 398.95,887.2 403.95,887.07 408.95,886.93 413.95,886.78 418.95,886.64 423.95,886.5 428.95,886.37 433.95,886.24 438.95,886.13 443.95,886.02 448.95,885.9 453.95,885.79 458.95,885.66 463.95,885.53 468.95,885.38 473.95,885.21 478.95,885.01 483.95,884.79 488.95,884.5 493.95,884.13 498.95,883.66 503.95,883.12 508.95,882.49 513.95,881.78 518.95,881 523.95,880.15 528.95,879.22 533.95,878.22 538.95,877.15 543.95,875.91 548.95,874.32 553.95,872.4 558.95,870.18 563.95,867.68 568.95,864.93 573.95,861.94 578.95,858.76 583.95,855.39 588.95,851.88 593.95,848.23 598.95,844.35 603.95,839.9 608.95,834.89 613.95,829.39 618.95,823.46 623.95,817.14 628.95,810.5 633.95,803.59 638.95,796.47 643.95,789.21 648.95,781.85 653.95,774.37 658.95,766.33 663.95,757.72 668.95,748.66 673.95,739.25 678.95,729.58 683.95,719.75 688.95,709.88 693.95,700.06 698.95,690.39 703.95,680.97 708.95,671.87 713.95,662.52 718.95,652.81 723.95,642.92 728.95,633 733.95,623.22 738.95,613.74 743.95,604.72 748.95,596.32 753.95,588.71 758.95,582.05 763.95,576.49 768.95,571.48 773.95,566.61 778.95,561.93 783.95,557.48 788.95,553.32 793.95,549.49 798.95,546.05 803.95,543.04 808.95,540.51 813.95,538.51 818.95,537.1 823.95,536.06 828.95,535.17 833.95,534.57 838.95,534.42 843.95,535.01 848.95,536.36 853.95,538.3 858.95,540.69 863.95,543.37 868.95,546.2 873.95,549.03 878.95,551.89 883.95,555.17 888.95,558.85 893.95,562.87 898.95,567.18 903.95,571.71 908.95,576.41 913.95,581.22 918.95,586.09 923.95,590.96 928.95,595.77 933.95,600.52 938.95,605.42 943.95,610.47 948.95,615.65 953.95,620.91 958.95,626.24 963.95,631.6 968.95,636.95 973.95,642.27 978.95,647.52 983.95,652.67 988.95,657.7 993.95,662.69 998.95,667.67 1003.95,672.64 1008.95,677.57 1013.95,682.47 1018.95,687.32 1023.95,692.12 1028.95,696.87 1033.95,701.55 1038.95,706.15 1043.95,710.67 1048.95,715.14 1053.95,719.57 1058.95,723.96 1063.95,728.3 1068.95,732.58 1073.95,736.81 1078.95,740.96 1083.95,745.05 1088.95,749.07 1093.95,753 1098.95,756.85 1103.95,760.62 1108.95,764.34 1113.95,768 1118.95,771.6 1123.95,775.14 1128.95,778.62 1133.95,782.04 1138.95,785.4 1143.95,788.69 1148.95,791.92 1153.95,795.08 1158.95,798.19 1163.95,801.25 1168.95,804.27 1173.95,807.25 1178.95,810.17 1183.95,813.04 1188.95,815.85 1193.95,818.59 1198.95,821.26 1203.95,823.85 1208.95,826.37 1213.95,828.81 1218.95,831.25 1223.95,833.67 1228.95,836.05 1233.95,838.38 1238.95,840.65 1243.95,842.83 1248.95,844.92 1253.95,846.89 1258.95,848.74 1263.95,850.44 1268.95,851.99 1273.95,853.44 1278.95,854.83 1283.95,856.14 1288.95,857.39 1293.95,858.59 1298.95,859.73 1303.95,860.82 1308.95,861.87 1313.95,862.88 1318.95,863.85 1323.95,864.79 1328.95,865.68 1333.95,866.54 1338.95,867.36 1343.95,868.15 1348.95,868.91 1353.95,869.65 1358.95,870.38 1363.95,871.09 1368.95,871.8 1373.95,872.5 1378.95,873.21 1383.95,873.92 1388.95,874.62 1393.95,875.32 1398.95,876.02 1403.95,876.7 1408.95,877.38 1413.95,878.03 1418.95,878.68 1423.95,879.3 1428.95,879.91 1433.95,880.5 1438.95,881.06 1443.95,881.6 1448.95,882.12 1453.95,882.63 1458.95,883.12 1463.95,883.61 1468.95,884.09 1473.95,884.56 1478.95,885.04 1483.95,885.52 1488.95,886.02 1493.95,886.52 1498.95,887.02" stroke="#000080" stroke-width="5.6"/>
<polygon points="193.95,876 211.2,866.04 211.2,885.96" fill="#fff" stroke="#000080" stroke-width="1.5" stroke-linejoin="miter"/>
<polygon points="249.9,887.8 267.15,877.84 267.15,897.76" fill="#fff" stroke="#000080" stroke-width="1.5" stroke-linejoin="miter"/>
<polygon points="305.85,888.4 323.1,878.44 323.1,898.36" fill="#fff" stroke="#000080" stroke-width="1.5" stroke-linejoin="miter"/>
<polygon points="361.8,887.8 379.05,877.84 379.05,897.76" fill="#fff" stroke="#000080" stroke-width="1.5" stroke-linejoin="miter"/>
<polygon points="417.75,886.4 435,876.44 435,896.36" fill="#fff" stroke="#000080" stroke-width="1.5" stroke-linejoin="miter"/>
<polygon points="473.7,884.8 490.95,874.84 490.95,894.76" fill="#fff" stroke="#000080" stroke-width="1.5" stroke-linejoin="miter"/>
<polygon points="529.65,877 546.9,867.04 546.9,886.96" fill="#fff" stroke="#000080" stroke-width="1.5" stroke-linejoin="miter"/>
<polygon points="585.6,847 602.85,837.04 602.85,856.96" fill="#fff" stroke="#000080" stroke-width="1.5" stroke-linejoin="miter"/>
<polygon points="641.55,778 658.8,768.04 658.8,787.96" fill="#fff" stroke="#000080" stroke-width="1.5" stroke-linejoin="miter"/>
<polygon points="697.5,674.5 714.75,664.54 714.75,684.46" fill="#fff" stroke="#000080" stroke-width="1.5" stroke-linejoin="miter"/>
<polygon points="753.45,577 770.7,567.04 770.7,586.96" fill="#fff" stroke="#000080" stroke-width="1.5" stroke-linejoin="miter"/>
<polygon points="809.4,537 826.65,527.04 826.65,546.96" fill="#fff" stroke="#000080" stroke-width="1.5" stroke-linejoin="miter"/>
<polygon points="865.35,549.8 882.6,539.84 882.6,559.76" fill="#fff" stroke="#000080" stroke-width="1.5" stroke-linejoin="miter"/>
<polygon points="921.3,598 938.55,588.04 938.55,607.96" fill="#fff" stroke="#000080" stroke-width="1.5" stroke-linejoin="miter"/>
<polygon points="977.25,656 994.5,646.04 994.5,665.96" fill="#fff" stroke="#000080" stroke-width="1.5" stroke-linejoin="miter"/>
<polygon points="1033.2,710 1050.45,700.04 1050.45,719.96" fill="#fff" stroke="#000080" stroke-width="1.5" stroke-linejoin="miter"/>
<polygon points="1089.15,757 1106.4,747.04 1106.4,766.96" fill="#fff" stroke="#000080" stroke-width="1.5" stroke-linejoin="miter"/>
<polygon points="1145.1,795.8 1162.35,785.84 1162.35,805.76" fill="#fff" stroke="#000080" stroke-width="1.5" stroke-linejoin="miter"/>
<polygon points="1201.05,827.4 1218.3,817.44 1218.3,837.36" fill="#fff" stroke="#000080" stroke-width="1.5" stroke-linejoin="miter"/>
<polygon points="1257,851.4 1274.25,841.44 1274.25,861.36" fill="#fff" stroke="#000080" stroke-width="1.5" stroke-linejoin="miter"/>
<polygon points="1312.95,864.6 1330.2,854.64 1330.2,874.56" fill="#fff" stroke="#000080" stroke-width="1.5" stroke-linejoin="miter"/>
<polygon points="1368.9,873.2 1386.15,863.24 1386.15,883.16" fill="#fff" stroke="#000080" stroke-width="1.5" stroke-linejoin="miter"/>
<polygon points="1424.85,880.6 1442.1,870.64 1442.1,890.56" fill="#fff" stroke="#000080" stroke-width="1.5" stroke-linejoin="miter"/>
<polygon points="1480.8,886.2 1498.05,876.24 1498.05,896.16" fill="#fff" stroke="#000080" stroke-width="1.5" stroke-linejoin="miter"/>
<path d="M203.95,874 208.95,875.52 213.95,877.01 218.95,878.45 223.95,879.82 228.95,881.09 233.95,882.25 238.95,883.27 243.95,884.14 248.95,884.82 253.95,885.31 258.95,885.58 263.95,885.68 268.95,885.77 273.95,885.86 278.95,885.93 283.95,886 288.95,886.05 293.95,886.1 298.95,886.14 303.95,886.17 308.95,886.19 313.95,886.2 318.95,886.2 323.95,886.18 328.95,886.15 333.95,886.11 338.95,886.06 343.95,886.01 348.95,885.94 353.95,885.87 358.95,885.8 363.95,885.72 368.95,885.64 373.95,885.56 378.95,885.47 383.95,885.35 388.95,885.22 393.95,885.08 398.95,884.93 403.95,884.77 408.95,884.61 413.95,884.44 418.95,884.28 423.95,884.12 428.95,883.96 433.95,883.82 438.95,883.69 443.95,883.57 448.95,883.44 453.95,883.31 458.95,883.17 463.95,883.02 468.95,882.85 473.95,882.66 478.95,882.44 483.95,882.19 488.95,881.86 493.95,881.43 498.95,880.9 503.95,880.27 508.95,879.55 513.95,878.74 518.95,877.84 523.95,876.86 528.95,875.81 533.95,874.67 538.95,873.47 543.95,872.09 548.95,870.36 553.95,868.3 558.95,865.92 563.95,863.26 568.95,860.34 573.95,857.18 578.95,853.81 583.95,850.24 588.95,846.5 593.95,842.61 598.95,838.47 603.95,833.69 608.95,828.32 613.95,822.4 618.95,816.02 623.95,809.23 628.95,802.1 633.95,794.7 638.95,787.08 643.95,779.32 648.95,771.49 653.95,763.55 658.95,755.01 663.95,745.89 668.95,736.29 673.95,726.34 678.95,716.15 683.95,705.83 688.95,695.51 693.95,685.28 698.95,675.27 703.95,665.6 708.95,656.34 713.95,646.97 718.95,637.39 723.95,627.72 728.95,618.09 733.95,608.62 738.95,599.43 743.95,590.65 748.95,582.4 753.95,574.8 758.95,567.97 763.95,562.05 768.95,556.5 773.95,550.99 778.95,545.6 783.95,540.41 788.95,535.52 793.95,531.01 798.95,526.96 803.95,523.45 808.95,520.58 813.95,518.43 818.95,517.08 823.95,516.27 828.95,515.61 833.95,515.24 838.95,515.32 843.95,516.04 848.95,517.32 853.95,519.06 858.95,521.14 863.95,523.48 868.95,525.97 873.95,528.5 878.95,531.17 883.95,534.44 888.95,538.24 893.95,542.51 898.95,547.14 903.95,552.06 908.95,557.19 913.95,562.44 918.95,567.72 923.95,572.96 928.95,578.07 933.95,583.02 938.95,588.07 943.95,593.24 948.95,598.51 953.95,603.85 958.95,609.24 963.95,614.65 968.95,620.06 973.95,625.45 978.95,630.8 983.95,636.07 988.95,641.26 993.95,646.43 998.95,651.62 1003.95,656.8 1008.95,661.97 1013.95,667.11 1018.95,672.21 1023.95,677.25 1028.95,682.24 1033.95,687.15 1038.95,691.98 1043.95,696.7 1048.95,701.37 1053.95,705.98 1058.95,710.55 1063.95,715.06 1068.95,719.52 1073.95,723.91 1078.95,728.24 1083.95,732.5 1088.95,736.69 1093.95,740.81 1098.95,744.84 1103.95,748.8 1108.95,752.71 1113.95,756.55 1118.95,760.34 1123.95,764.07 1128.95,767.74 1133.95,771.35 1138.95,774.91 1143.95,778.4 1148.95,781.85 1153.95,785.23 1158.95,788.57 1163.95,791.89 1168.95,795.17 1173.95,798.42 1178.95,801.61 1183.95,804.75 1188.95,807.83 1193.95,810.83 1198.95,813.74 1203.95,816.57 1208.95,819.29 1213.95,821.92 1218.95,824.51 1223.95,827.06 1228.95,829.56 1233.95,832 1238.95,834.37 1243.95,836.67 1248.95,838.88 1253.95,841 1258.95,843.01 1263.95,844.9 1268.95,846.68 1273.95,848.4 1278.95,850.06 1283.95,851.67 1288.95,853.22 1293.95,854.7 1298.95,856.13 1303.95,857.49 1308.95,858.78 1313.95,860 1318.95,861.14 1323.95,862.21 1328.95,863.21 1333.95,864.15 1338.95,865.04 1343.95,865.89 1348.95,866.71 1353.95,867.49 1358.95,868.25 1363.95,869 1368.95,869.73 1373.95,870.47 1378.95,871.21 1383.95,871.95 1388.95,872.68 1393.95,873.4 1398.95,874.11 1403.95,874.81 1408.95,875.5 1413.95,876.17 1418.95,876.83 1423.95,877.47 1428.95,878.09 1433.95,878.69 1438.95,879.27 1443.95,879.83 1448.95,880.37 1453.95,880.9 1458.95,881.41 1463.95,881.91 1468.95,882.41 1473.95,882.9 1478.95,883.4 1483.95,883.9 1488.95,884.41 1493.95,884.93 1498.95,885.44" stroke="#8000ff" stroke-width="3.5"/>
<polygon points="213.45,876 196.95,885.53 196.95,866.47" fill="#fff" stroke="#8000ff" stroke-width="1.5" stroke-linejoin="miter"/>
<polygon points="269.4,887.6 252.9,897.13 252.9,878.07" fill="#fff" stroke="#8000ff" stroke-width="1.5" stroke-linejoin="miter"/>
<polygon points="325.35,888.2 308.85,897.73 308.85,878.67" fill="#fff" stroke="#8000ff" stroke-width="1.5" stroke-linejoin="miter"/>
<polygon points="381.3,887.6 364.8,897.13 364.8,878.07" fill="#fff" stroke="#8000ff" stroke-width="1.5" stroke-linejoin="miter"/>
<polygon points="437.25,886 420.75,895.53 420.75,876.47" fill="#fff" stroke="#8000ff" stroke-width="1.5" stroke-linejoin="miter"/>
<polygon points="493.2,884.2 476.7,893.73 476.7,874.67" fill="#fff" stroke="#8000ff" stroke-width="1.5" stroke-linejoin="miter"/>
<polygon points="549.15,875.3 532.65,884.83 532.65,865.77" fill="#fff" stroke="#8000ff" stroke-width="1.5" stroke-linejoin="miter"/>
<polygon points="605.1,843.3 588.6,852.83 588.6,833.77" fill="#fff" stroke="#8000ff" stroke-width="1.5" stroke-linejoin="miter"/>
<polygon points="661.05,769.4 644.55,778.93 644.55,759.87" fill="#fff" stroke="#8000ff" stroke-width="1.5" stroke-linejoin="miter"/>
<polygon points="717,661 700.5,670.53 700.5,651.47" fill="#fff" stroke="#8000ff" stroke-width="1.5" stroke-linejoin="miter"/>
<polygon points="772.95,564.6 756.45,574.13 756.45,555.07" fill="#fff" stroke="#8000ff" stroke-width="1.5" stroke-linejoin="miter"/>
<polygon points="828.9,519 812.4,528.53 812.4,509.47" fill="#fff" stroke="#8000ff" stroke-width="1.5" stroke-linejoin="miter"/>
<polygon points="884.85,531.2 868.35,540.73 868.35,521.67" fill="#fff" stroke="#8000ff" stroke-width="1.5" stroke-linejoin="miter"/>
<polygon points="940.8,582.4 924.3,591.93 924.3,572.87" fill="#fff" stroke="#8000ff" stroke-width="1.5" stroke-linejoin="miter"/>
<polygon points="996.75,641.5 980.25,651.03 980.25,631.97" fill="#fff" stroke="#8000ff" stroke-width="1.5" stroke-linejoin="miter"/>
<polygon points="1052.7,698 1036.2,707.53 1036.2,688.47" fill="#fff" stroke="#8000ff" stroke-width="1.5" stroke-linejoin="miter"/>
<polygon points="1108.65,747 1092.15,756.53 1092.15,737.47" fill="#fff" stroke="#8000ff" stroke-width="1.5" stroke-linejoin="miter"/>
<polygon points="1164.6,788 1148.1,797.53 1148.1,778.47" fill="#fff" stroke="#8000ff" stroke-width="1.5" stroke-linejoin="miter"/>
<polygon points="1220.55,822.4 1204.05,831.93 1204.05,812.87" fill="#fff" stroke="#8000ff" stroke-width="1.5" stroke-linejoin="miter"/>
<polygon points="1276.5,848 1260,857.53 1260,838.47" fill="#fff" stroke="#8000ff" stroke-width="1.5" stroke-linejoin="miter"/>
<polygon points="1332.45,864 1315.95,873.53 1315.95,854.47" fill="#fff" stroke="#8000ff" stroke-width="1.5" stroke-linejoin="miter"/>
<polygon points="1388.4,873.2 1371.9,882.73 1371.9,863.67" fill="#fff" stroke="#8000ff" stroke-width="1.5" stroke-linejoin="miter"/>
<polygon points="1444.35,880.8 1427.85,890.33 1427.85,871.27" fill="#fff" stroke="#8000ff" stroke-width="1.5" stroke-linejoin="miter"/>
<polygon points="1500.3,886.6 1483.8,896.13 1483.8,877.07" fill="#fff" stroke="#8000ff" stroke-width="1.5" stroke-linejoin="miter"/>
<path d="M203.95,874 208.95,875.52 213.95,877.01 218.95,878.45 223.95,879.82 228.95,881.09 233.95,882.25 238.95,883.27 243.95,884.14 248.95,884.82 253.95,885.31 258.95,885.58 263.95,885.68 268.95,885.77 273.95,885.86 278.95,885.93 283.95,886 288.95,886.05 293.95,886.1 298.95,886.14 303.95,886.17 308.95,886.19 313.95,886.2 318.95,886.2 323.95,886.18 328.95,886.15 333.95,886.11 338.95,886.06 343.95,886.01 348.95,885.94 353.95,885.87 358.95,885.8 363.95,885.72 368.95,885.64 373.95,885.56 378.95,885.47 383.95,885.35 388.95,885.22 393.95,885.08 398.95,884.93 403.95,884.77 408.95,884.61 413.95,884.44 418.95,884.28 423.95,884.12 428.95,883.96 433.95,883.82 438.95,883.69 443.95,883.57 448.95,883.44 453.95,883.31 458.95,883.17 463.95,883.02 468.95,882.85 473.95,882.66 478.95,882.44 483.95,882.19 488.95,881.86 493.95,881.43 498.95,880.9 503.95,880.27 508.95,879.55 513.95,878.74 518.95,877.84 523.95,876.86 528.95,875.81 533.95,874.67 538.95,873.47 543.95,872.09 548.95,870.36 553.95,868.3 558.95,865.92 563.95,863.26 568.95,860.34 573.95,857.18 578.95,853.81 583.95,850.24 588.95,846.5 593.95,842.61 598.95,838.47 603.95,833.69 608.95,828.32 613.95,822.4 618.95,816.02 623.95,809.23 628.95,802.1 633.95,794.7 638.95,787.08 643.95,779.32 648.95,771.49 653.95,763.55 658.95,755.01 663.95,745.89 668.95,736.29 673.95,726.34 678.95,716.15 683.95,705.83 688.95,695.51 693.95,685.28 698.95,675.27 703.95,665.6 708.95,656.34 713.95,646.97 718.95,637.39 723.95,627.72 728.95,618.09 733.95,608.62 738.95,599.43 743.95,590.65 748.95,582.4 753.95,574.8 758.95,567.97 763.95,562.05 768.95,556.5 773.95,550.99 778.95,545.6 783.95,540.41 788.95,535.52 793.95,531.01 798.95,526.96 803.95,523.45 808.95,520.58 813.95,518.43 818.95,517.08 823.95,516.27 828.95,515.61 833.95,515.24 838.95,515.32 843.95,516.04 848.95,517.32 853.95,519.06 858.95,521.14 863.95,523.48 868.95,525.97 873.95,528.5 878.95,531.17 883.95,534.44 888.95,538.24 893.95,542.51 898.95,547.14 903.95,552.06 908.95,557.19 913.95,562.44 918.95,567.72 923.95,572.96 928.95,578.07 933.95,583.02 938.95,588.07 943.95,593.24 948.95,598.51 953.95,603.85 958.95,609.24 963.95,614.65 968.95,620.06 973.95,625.45 978.95,630.8 983.95,636.07 988.95,641.26 993.95,646.43 998.95,651.62 1003.95,656.8 1008.95,661.97 1013.95,667.11 1018.95,672.21 1023.95,677.25 1028.95,682.24 1033.95,687.15 1038.95,691.98 1043.95,696.7 1048.95,701.37 1053.95,705.98 1058.95,710.55 1063.95,715.06 1068.95,719.52 1073.95,723.91 1078.95,728.24 1083.95,732.5 1088.95,736.69 1093.95,740.81 1098.95,744.84 1103.95,748.8 1108.95,752.71 1113.95,756.55 1118.95,760.34 1123.95,764.07 1128.95,767.74 1133.95,771.35 1138.95,774.91 1143.95,778.4 1148.95,781.85 1153.95,785.23 1158.95,788.57 1163.95,791.89 1168.95,795.17 1173.95,798.42 1178.95,801.61 1183.95,804.75 1188.95,807.83 1193.95,810.83 1198.95,813.74 1203.95,816.57 1208.95,819.29 1213.95,821.92 1218.95,824.51 1223.95,827.06 1228.95,829.56 1233.95,832 1238.95,834.37 1243.95,836.67 1248.95,838.88 1253.95,841 1258.95,843.01 1263.95,844.9 1268.95,846.68 1273.95,848.4 1278.95,850.06 1283.95,851.67 1288.95,853.22 1293.95,854.7 1298.95,856.13 1303.95,857.49 1308.95,858.78 1313.95,860 1318.95,861.14 1323.95,862.21 1328.95,863.21 1333.95,864.15 1338.95,865.04 1343.95,865.89 1348.95,866.71 1353.95,867.49 1358.95,868.25 1363.95,869 1368.95,869.73 1373.95,870.47 1378.95,871.21 1383.95,871.95 1388.95,872.68 1393.95,873.4 1398.95,874.11 1403.95,874.81 1408.95,875.5 1413.95,876.17 1418.95,876.83 1423.95,877.47 1428.95,878.09 1433.95,878.69 1438.95,879.27 1443.95,879.83 1448.95,880.37 1453.95,880.9 1458.95,881.41 1463.95,881.91 1468.95,882.41 1473.95,882.9 1478.95,883.4 1483.95,883.9 1488.95,884.41 1493.95,884.93 1498.95,885.44" stroke="#a0009a" stroke-width="3"/>
<polygon points="203.95,863.5 213.91,869.25 213.91,880.75 203.95,886.5 193.99,880.75 193.99,869.25" fill="#fff" stroke="#a0009a" stroke-width="1.5" stroke-linejoin="miter"/>
<polygon points="259.9,875.1 269.86,880.85 269.86,892.35 259.9,898.1 249.94,892.35 249.94,880.85" fill="#fff" stroke="#a0009a" stroke-width="1.5" stroke-linejoin="miter"/>
<polygon points="315.85,875.7 325.81,881.45 325.81,892.95 315.85,898.7 305.89,892.95 305.89,881.45" fill="#fff" stroke="#a0009a" stroke-width="1.5" stroke-linejoin="miter"/>
<polygon points="371.8,875.1 381.76,880.85 381.76,892.35 371.8,898.1 361.84,892.35 361.84,880.85" fill="#fff" stroke="#a0009a" stroke-width="1.5" stroke-linejoin="miter"/>
<polygon points="427.75,873.5 437.71,879.25 437.71,890.75 427.75,896.5 417.79,890.75 417.79,879.25" fill="#fff" stroke="#a0009a" stroke-width="1.5" stroke-linejoin="miter"/>
<polygon points="483.7,871.7 493.66,877.45 493.66,888.95 483.7,894.7 473.74,888.95 473.74,877.45" fill="#fff" stroke="#a0009a" stroke-width="1.5" stroke-linejoin="miter"/>
<polygon points="539.65,862.8 549.61,868.55 549.61,880.05 539.65,885.8 529.69,880.05 529.69,868.55" fill="#fff" stroke="#a0009a" stroke-width="1.5" stroke-linejoin="miter"/>
<polygon points="595.6,830.8 605.56,836.55 605.56,848.05 595.6,853.8 585.64,848.05 585.64,836.55" fill="#fff" stroke="#a0009a" stroke-width="1.5" stroke-linejoin="miter"/>
<polygon points="651.55,756.9 661.51,762.65 661.51,774.15 651.55,779.9 641.59,774.15 641.59,762.65" fill="#fff" stroke="#a0009a" stroke-width="1.5" stroke-linejoin="miter"/>
<polygon points="707.5,648.5 717.46,654.25 717.46,665.75 707.5,671.5 697.54,665.75 697.54,654.25" fill="#fff" stroke="#a0009a" stroke-width="1.5" stroke-linejoin="miter"/>
<polygon points="763.45,552.1 773.41,557.85 773.41,569.35 763.45,575.1 753.49,569.35 753.49,557.85" fill="#fff" stroke="#a0009a" stroke-width="1.5" stroke-linejoin="miter"/>
<polygon points="819.4,506.5 829.36,512.25 829.36,523.75 819.4,529.5 809.44,523.75 809.44,512.25" fill="#fff" stroke="#a0009a" stroke-width="1.5" stroke-linejoin="miter"/>
<polygon points="875.35,518.7 885.31,524.45 885.31,535.95 875.35,541.7 865.39,535.95 865.39,524.45" fill="#fff" stroke="#a0009a" stroke-width="1.5" stroke-linejoin="miter"/>
<polygon points="931.3,569.9 941.26,575.65 941.26,587.15 931.3,592.9 921.34,587.15 921.34,575.65" fill="#fff" stroke="#a0009a" stroke-width="1.5" stroke-linejoin="miter"/>
<polygon points="987.25,629 997.21,634.75 997.21,646.25 987.25,652 977.29,646.25 977.29,634.75" fill="#fff" stroke="#a0009a" stroke-width="1.5" stroke-linejoin="miter"/>
<polygon points="1043.2,685.5 1053.16,691.25 1053.16,702.75 1043.2,708.5 1033.24,702.75 1033.24,691.25" fill="#fff" stroke="#a0009a" stroke-width="1.5" stroke-linejoin="miter"/>
<polygon points="1099.15,734.5 1109.11,740.25 1109.11,751.75 1099.15,757.5 1089.19,751.75 1089.19,740.25" fill="#fff" stroke="#a0009a" stroke-width="1.5" stroke-linejoin="miter"/>
<polygon points="1155.1,775.5 1165.06,781.25 1165.06,792.75 1155.1,798.5 1145.14,792.75 1145.14,781.25" fill="#fff" stroke="#a0009a" stroke-width="1.5" stroke-linejoin="miter"/>
<polygon points="1211.05,809.9 1221.01,815.65 1221.01,827.15 1211.05,832.9 1201.09,827.15 1201.09,815.65" fill="#fff" stroke="#a0009a" stroke-width="1.5" stroke-linejoin="miter"/>
<polygon points="1267,835.5 1276.96,841.25 1276.96,852.75 1267,858.5 1257.04,852.75 1257.04,841.25" fill="#fff" stroke="#a0009a" stroke-width="1.5" stroke-linejoin="miter"/>
<polygon points="1322.95,851.5 1332.91,857.25 1332.91,868.75 1322.95,874.5 1312.99,868.75 1312.99,857.25" fill="#fff" stroke="#a0009a" stroke-width="1.5" stroke-linejoin="miter"/>
<polygon points="1378.9,860.7 1388.86,866.45 1388.86,877.95 1378.9,883.7 1368.94,877.95 1368.94,866.45" fill="#fff" stroke="#a0009a" stroke-width="1.5" stroke-linejoin="miter"/>
<polygon points="1434.85,868.3 1444.81,874.05 1444.81,885.55 1434.85,891.3 1424.89,885.55 1424.89,874.05" fill="#fff" stroke="#a0009a" stroke-width="1.5" stroke-linejoin="miter"/>
<polygon points="1490.8,874.1 1500.76,879.85 1500.76,891.35 1490.8,897.1 1480.84,891.35 1480.84,879.85" fill="#fff" stroke="#a0009a" stroke-width="1.5" stroke-linejoin="miter"/>
<path d="M203.95,874 208.95,875.52 213.95,877.01 218.95,878.45 223.95,879.82 228.95,881.09 233.95,882.25 238.95,883.27 243.95,884.14 248.95,884.82 253.95,885.31 258.95,885.58 263.95,885.68 268.95,885.77 273.95,885.86 278.95,885.93 283.95,886 288.95,886.05 293.95,886.1 298.95,886.14 303.95,886.17 308.95,886.19 313.95,886.2 318.95,886.2 323.95,886.18 328.95,886.15 333.95,886.11 338.95,886.06 343.95,886.01 348.95,885.94 353.95,885.87 358.95,885.8 363.95,885.72 368.95,885.64 373.95,885.56 378.95,885.47 383.95,885.35 388.95,885.22 393.95,885.08 398.95,884.93 403.95,884.77 408.95,884.61 413.95,884.44 418.95,884.28 423.95,884.12 428.95,883.96 433.95,883.82 438.95,883.69 443.95,883.57 448.95,883.44 453.95,883.31 458.95,883.17 463.95,883.02 468.95,882.85 473.95,882.66 478.95,882.44 483.95,882.19 488.95,881.86 493.95,881.43 498.95,880.9 503.95,880.27 508.95,879.55 513.95,878.74 518.95,877.84 523.95,876.86 528.95,875.81 533.95,874.67 538.95,873.47 543.95,872.09 548.95,870.36 553.95,868.3 558.95,865.92 563.95,863.26 568.95,860.34 573.95,857.18 578.95,853.81 583.95,850.24 588.95,846.5 593.95,842.61 598.95,838.47 603.95,833.69 608.95,828.32 613.95,822.4 618.95,816.02 623.95,809.23 628.95,802.1 633.95,794.7 638.95,787.08 643.95,779.32 648.95,771.49 653.95,763.55 658.95,755.01 663.95,745.89 668.95,736.29 673.95,726.34 678.95,716.15 683.95,705.83 688.95,695.51 693.95,685.28 698.95,675.27 703.95,665.6 708.95,656.34 713.95,646.97 718.95,637.39 723.95,627.72 728.95,618.09 733.95,608.62 738.95,599.43 743.95,590.65 748.95,582.4 753.95,574.8 758.95,567.97 763.95,562.05 768.95,556.5 773.95,550.99 778.95,545.6 783.95,540.41 788.95,535.52 793.95,531.01 798.95,526.96 803.95,523.45 808.95,520.58 813.95,518.43 818.95,517.08 823.95,516.27 828.95,515.61 833.95,515.24 838.95,515.32 843.95,516.04 848.95,517.32 853.95,519.06 858.95,521.14 863.95,523.48 868.95,525.97 873.95,528.5 878.95,531.17 883.95,534.44 888.95,538.24 893.95,542.51 898.95,547.14 903.95,552.06 908.95,557.19 913.95,562.44 918.95,567.72 923.95,572.96 928.95,578.07 933.95,583.02 938.95,588.07 943.95,593.24 948.95,598.51 953.95,603.85 958.95,609.24 963.95,614.65 968.95,620.06 973.95,625.45 978.95,630.8 983.95,636.07 988.95,641.26 993.95,646.43 998.95,651.62 1003.95,656.8 1008.95,661.97 1013.95,667.11 1018.95,672.21 1023.95,677.25 1028.95,682.24 1033.95,687.15 1038.95,691.98 1043.95,696.7 1048.95,701.37 1053.95,705.98 1058.95,710.55 1063.95,715.06 1068.95,719.52 1073.95,723.91 1078.95,728.24 1083.95,732.5 1088.95,736.69 1093.95,740.81 1098.95,744.84 1103.95,748.8 1108.95,752.71 1113.95,756.55 1118.95,760.34 1123.95,764.07 1128.95,767.74 1133.95,771.35 1138.95,774.91 1143.95,778.4 1148.95,781.85 1153.95,785.23 1158.95,788.57 1163.95,791.89 1168.95,795.17 1173.95,798.42 1178.95,801.61 1183.95,804.75 1188.95,807.83 1193.95,810.83 1198.95,813.74 1203.95,816.57 1208.95,819.29 1213.95,821.92 1218.95,824.51 1223.95,827.06 1228.95,829.56 1233.95,832 1238.95,834.37 1243.95,836.67 1248.95,838.88 1253.95,841 1258.95,843.01 1263.95,844.9 1268.95,846.68 1273.95,848.4 1278.95,850.06 1283.95,851.67 1288.95,853.22 1293.95,854.7 1298.95,856.13 1303.95,857.49 1308.95,858.78 1313.95,860 1318.95,861.14 1323.95,862.21 1328.95,863.21 1333.95,864.15 1338.95,865.04 1343.95,865.89 1348.95,866.71 1353.95,867.49 1358.95,868.25 1363.95,869 1368.95,869.73 1373.95,870.47 1378.95,871.21 1383.95,871.95 1388.95,872.68 1393.95,873.4 1398.95,874.11 1403.95,874.81 1408.95,875.5 1413.95,876.17 1418.95,876.83 1423.95,877.47 1428.95,878.09 1433.95,878.69 1438.95,879.27 1443.95,879.83 1448.95,880.37 1453.95,880.9 1458.95,881.41 1463.95,881.91 1468.95,882.41 1473.95,882.9 1478.95,883.4 1483.95,883.9 1488.95,884.41 1493.95,884.93 1498.95,885.44" stroke="#0060a8" stroke-width="3"/>
<circle cx="203.95" cy="875" r="10.5" fill="#fff" stroke="#0060a8" stroke-width="1.5"/><path d="M193.45,875 A10.5,10.5 0 0 1 214.45,875 Z" fill="#0060a8" stroke="#0060a8" stroke-width="1.5"/>
<circle cx="259.9" cy="886.6" r="10.5" fill="#fff" stroke="#0060a8" stroke-width="1.5"/><path d="M249.4,886.6 A10.5,10.5 0 0 1 270.4,886.6 Z" fill="#0060a8" stroke="#0060a8" stroke-width="1.5"/>
<circle cx="315.85" cy="887.2" r="10.5" fill="#fff" stroke="#0060a8" stroke-width="1.5"/><path d="M305.35,887.2 A10.5,10.5 0 0 1 326.35,887.2 Z" fill="#0060a8" stroke="#0060a8" stroke-width="1.5"/>
<circle cx="371.8" cy="886.6" r="10.5" fill="#fff" stroke="#0060a8" stroke-width="1.5"/><path d="M361.3,886.6 A10.5,10.5 0 0 1 382.3,886.6 Z" fill="#0060a8" stroke="#0060a8" stroke-width="1.5"/>
<circle cx="427.75" cy="885" r="10.5" fill="#fff" stroke="#0060a8" stroke-width="1.5"/><path d="M417.25,885 A10.5,10.5 0 0 1 438.25,885 Z" fill="#0060a8" stroke="#0060a8" stroke-width="1.5"/>
<circle cx="483.7" cy="883.2" r="10.5" fill="#fff" stroke="#0060a8" stroke-width="1.5"/><path d="M473.2,883.2 A10.5,10.5 0 0 1 494.2,883.2 Z" fill="#0060a8" stroke="#0060a8" stroke-width="1.5"/>
<circle cx="539.65" cy="874.3" r="10.5" fill="#fff" stroke="#0060a8" stroke-width="1.5"/><path d="M529.15,874.3 A10.5,10.5 0 0 1 550.15,874.3 Z" fill="#0060a8" stroke="#0060a8" stroke-width="1.5"/>
<circle cx="595.6" cy="842.3" r="10.5" fill="#fff" stroke="#0060a8" stroke-width="1.5"/><path d="M585.1,842.3 A10.5,10.5 0 0 1 606.1,842.3 Z" fill="#0060a8" stroke="#0060a8" stroke-width="1.5"/>
<circle cx="651.55" cy="768.4" r="10.5" fill="#fff" stroke="#0060a8" stroke-width="1.5"/><path d="M641.05,768.4 A10.5,10.5 0 0 1 662.05,768.4 Z" fill="#0060a8" stroke="#0060a8" stroke-width="1.5"/>
<circle cx="707.5" cy="660" r="10.5" fill="#fff" stroke="#0060a8" stroke-width="1.5"/><path d="M697,660 A10.5,10.5 0 0 1 718,660 Z" fill="#0060a8" stroke="#0060a8" stroke-width="1.5"/>
<circle cx="763.45" cy="563.6" r="10.5" fill="#fff" stroke="#0060a8" stroke-width="1.5"/><path d="M752.95,563.6 A10.5,10.5 0 0 1 773.95,563.6 Z" fill="#0060a8" stroke="#0060a8" stroke-width="1.5"/>
<circle cx="819.4" cy="518" r="10.5" fill="#fff" stroke="#0060a8" stroke-width="1.5"/><path d="M808.9,518 A10.5,10.5 0 0 1 829.9,518 Z" fill="#0060a8" stroke="#0060a8" stroke-width="1.5"/>
<circle cx="875.35" cy="530.2" r="10.5" fill="#fff" stroke="#0060a8" stroke-width="1.5"/><path d="M864.85,530.2 A10.5,10.5 0 0 1 885.85,530.2 Z" fill="#0060a8" stroke="#0060a8" stroke-width="1.5"/>
<circle cx="931.3" cy="581.4" r="10.5" fill="#fff" stroke="#0060a8" stroke-width="1.5"/><path d="M920.8,581.4 A10.5,10.5 0 0 1 941.8,581.4 Z" fill="#0060a8" stroke="#0060a8" stroke-width="1.5"/>
<circle cx="987.25" cy="640.5" r="10.5" fill="#fff" stroke="#0060a8" stroke-width="1.5"/><path d="M976.75,640.5 A10.5,10.5 0 0 1 997.75,640.5 Z" fill="#0060a8" stroke="#0060a8" stroke-width="1.5"/>
<circle cx="1043.2" cy="697" r="10.5" fill="#fff" stroke="#0060a8" stroke-width="1.5"/><path d="M1032.7,697 A10.5,10.5 0 0 1 1053.7,697 Z" fill="#0060a8" stroke="#0060a8" stroke-width="1.5"/>
<circle cx="1099.15" cy="746" r="10.5" fill="#fff" stroke="#0060a8" stroke-width="1.5"/><path d="M1088.65,746 A10.5,10.5 0 0 1 1109.65,746 Z" fill="#0060a8" stroke="#0060a8" stroke-width="1.5"/>
<circle cx="1155.1" cy="787" r="10.5" fill="#fff" stroke="#0060a8" stroke-width="1.5"/><path d="M1144.6,787 A10.5,10.5 0 0 1 1165.6,787 Z" fill="#0060a8" stroke="#0060a8" stroke-width="1.5"/>
<circle cx="1211.05" cy="821.4" r="10.5" fill="#fff" stroke="#0060a8" stroke-width="1.5"/><path d="M1200.55,821.4 A10.5,10.5 0 0 1 1221.55,821.4 Z" fill="#0060a8" stroke="#0060a8" stroke-width="1.5"/>
<circle cx="1267" cy="847" r="10.5" fill="#fff" stroke="#0060a8" stroke-width="1.5"/><path d="M1256.5,847 A10.5,10.5 0 0 1 1277.5,847 Z" fill="#0060a8" stroke="#0060a8" stroke-width="1.5"/>
<circle cx="1322.95" cy="863" r="10.5" fill="#fff" stroke="#0060a8" stroke-width="1.5"/><path d="M1312.45,863 A10.5,10.5 0 0 1 1333.45,863 Z" fill="#0060a8" stroke="#0060a8" stroke-width="1.5"/>
<circle cx="1378.9" cy="872.2" r="10.5" fill="#fff" stroke="#0060a8" stroke-width="1.5"/><path d="M1368.4,872.2 A10.5,10.5 0 0 1 1389.4,872.2 Z" fill="#0060a8" stroke="#0060a8" stroke-width="1.5"/>
<circle cx="1434.85" cy="879.8" r="10.5" fill="#fff" stroke="#0060a8" stroke-width="1.5"/><path d="M1424.35,879.8 A10.5,10.5 0 0 1 1445.35,879.8 Z" fill="#0060a8" stroke="#0060a8" stroke-width="1.5"/>
<circle cx="1490.8" cy="885.6" r="10.5" fill="#fff" stroke="#0060a8" stroke-width="1.5"/><path d="M1480.3,885.6 A10.5,10.5 0 0 1 1501.3,885.6 Z" fill="#0060a8" stroke="#0060a8" stroke-width="1.5"/>
<path d="M203.95,874 208.95,875.52 213.95,877.01 218.95,878.45 223.95,879.82 228.95,881.09 233.95,882.25 238.95,883.27 243.95,884.14 248.95,884.82 253.95,885.31 258.95,885.58 263.95,885.68 268.95,885.77 273.95,885.86 278.95,885.93 283.95,886 288.95,886.05 293.95,886.1 298.95,886.14 303.95,886.17 308.95,886.19 313.95,886.2 318.95,886.2 323.95,886.18 328.95,886.15 333.95,886.11 338.95,886.06 343.95,886.01 348.95,885.94 353.95,885.87 358.95,885.8 363.95,885.72 368.95,885.64 373.95,885.56 378.95,885.47 383.95,885.35 388.95,885.22 393.95,885.08 398.95,884.93 403.95,884.77 408.95,884.61 413.95,884.44 418.95,884.28 423.95,884.12 428.95,883.96 433.95,883.82 438.95,883.69 443.95,883.57 448.95,883.44 453.95,883.31 458.95,883.17 463.95,883.02 468.95,882.85 473.95,882.66 478.95,882.44 483.95,882.19 488.95,881.86 493.95,881.43 498.95,880.9 503.95,880.27 508.95,879.55 513.95,878.74 518.95,877.84 523.95,876.86 528.95,875.81 533.95,874.67 538.95,873.47 543.95,872.09 548.95,870.36 553.95,868.3 558.95,865.92 563.95,863.26 568.95,860.34 573.95,857.18 578.95,853.81 583.95,850.24 588.95,846.5 593.95,842.61 598.95,838.47 603.95,833.69 608.95,828.32 613.95,822.4 618.95,816.02 623.95,809.23 628.95,802.1 633.95,794.7 638.95,787.08 643.95,779.32 648.95,771.49 653.95,763.55 658.95,755.01 663.95,745.89 668.95,736.29 673.95,726.34 678.95,716.15 683.95,705.83 688.95,695.51 693.95,685.28 698.95,675.27 703.95,665.6 708.95,656.34 713.95,646.97 718.95,637.39 723.95,627.72 728.95,618.09 733.95,608.62 738.95,599.43 743.95,590.65 748.95,582.4 753.95,574.8 758.95,567.97 763.95,562.05 768.95,556.5 773.95,550.99 778.95,545.6 783.95,540.41 788.95,535.52 793.95,531.01 798.95,526.96 803.95,523.45 808.95,520.58 813.95,518.43 818.95,517.08 823.95,516.27 828.95,515.61 833.95,515.24 838.95,515.32 843.95,516.04 848.95,517.32 853.95,519.06 858.95,521.14 863.95,523.48 868.95,525.97 873.95,528.5 878.95,531.17 883.95,534.44 888.95,538.24 893.95,542.51 898.95,547.14 903.95,552.06 908.95,557.19 913.95,562.44 918.95,567.72 923.95,572.96 928.95,578.07 933.95,583.02 938.95,588.07 943.95,593.24 948.95,598.51 953.95,603.85 958.95,609.24 963.95,614.65 968.95,620.06 973.95,625.45 978.95,630.8 983.95,636.07 988.95,641.26 993.95,646.43 998.95,651.62 1003.95,656.8 1008.95,661.97 1013.95,667.11 1018.95,672.21 1023.95,677.25 1028.95,682.24 1033.95,687.15 1038.95,691.98 1043.95,696.7 1048.95,701.37 1053.95,705.98 1058.95,710.55 1063.95,715.06 1068.95,719.52 1073.95,723.91 1078.95,728.24 1083.95,732.5 1088.95,736.69 1093.95,740.81 1098.95,744.84 1103.95,748.8 1108.95,752.71 1113.95,756.55 1118.95,760.34 1123.95,764.07 1128.95,767.74 1133.95,771.35 1138.95,774.91 1143.95,778.4 1148.95,781.85 1153.95,785.23 1158.95,788.57 1163.95,791.89 1168.95,795.17 1173.95,798.42 1178.95,801.61 1183.95,804.75 1188.95,807.83 1193.95,810.83 1198.95,813.74 1203.95,816.57 1208.95,819.29 1213.95,821.92 1218.95,824.51 1223.95,827.06 1228.95,829.56 1233.95,832 1238.95,834.37 1243.95,836.67 1248.95,838.88 1253.95,841 1258.95,843.01 1263.95,844.9 1268.95,846.68 1273.95,848.4 1278.95,850.06 1283.95,851.67 1288.95,853.22 1293.95,854.7 1298.95,856.13 1303.95,857.49 1308.95,858.78 1313.95,860 1318.95,861.14 1323.95,862.21 1328.95,863.21 1333.95,864.15 1338.95,865.04 1343.95,865.89 1348.95,866.71 1353.95,867.49 1358.95,868.25 1363.95,869 1368.95,869.73 1373.95,870.47 1378.95,871.21 1383.95,871.95 1388.95,872.68 1393.95,873.4 1398.95,874.11 1403.95,874.81 1408.95,875.5 1413.95,876.17 1418.95,876.83 1423.95,877.47 1428.95,878.09 1433.95,878.69 1438.95,879.27 1443.95,879.83 1448.95,880.37 1453.95,880.9 1458.95,881.41 1463.95,881.91 1468.95,882.41 1473.95,882.9 1478.95,883.4 1483.95,883.9 1488.95,884.41 1493.95,884.93 1498.95,885.44" stroke="#ff8000" stroke-width="3"/>
<rect x="196.2" y="865" width="15.5" height="19" fill="#fff" stroke="#ff8000" stroke-width="1.5"/><rect x="196.2" y="865" width="15.5" height="9.5" fill="#ff8000" stroke="#ff8000" stroke-width="1.5"/>
<rect x="252.15" y="876.6" width="15.5" height="19" fill="#fff" stroke="#ff8000" stroke-width="1.5"/><rect x="252.15" y="876.6" width="15.5" height="9.5" fill="#ff8000" stroke="#ff8000" stroke-width="1.5"/>
<rect x="308.1" y="877.2" width="15.5" height="19" fill="#fff" stroke="#ff8000" stroke-width="1.5"/><rect x="308.1" y="877.2" width="15.5" height="9.5" fill="#ff8000" stroke="#ff8000" stroke-width="1.5"/>
<rect x="364.05" y="876.6" width="15.5" height="19" fill="#fff" stroke="#ff8000" stroke-width="1.5"/><rect x="364.05" y="876.6" width="15.5" height="9.5" fill="#ff8000" stroke="#ff8000" stroke-width="1.5"/>
<rect x="420" y="875" width="15.5" height="19" fill="#fff" stroke="#ff8000" stroke-width="1.5"/><rect x="420" y="875" width="15.5" height="9.5" fill="#ff8000" stroke="#ff8000" stroke-width="1.5"/>
<rect x="475.95" y="873.2" width="15.5" height="19" fill="#fff" stroke="#ff8000" stroke-width="1.5"/><rect x="475.95" y="873.2" width="15.5" height="9.5" fill="#ff8000" stroke="#ff8000" stroke-width="1.5"/>
<rect x="531.9" y="864.3" width="15.5" height="19" fill="#fff" stroke="#ff8000" stroke-width="1.5"/><rect x="531.9" y="864.3" width="15.5" height="9.5" fill="#ff8000" stroke="#ff8000" stroke-width="1.5"/>
<rect x="587.85" y="832.3" width="15.5" height="19" fill="#fff" stroke="#ff8000" stroke-width="1.5"/><rect x="587.85" y="832.3" width="15.5" height="9.5" fill="#ff8000" stroke="#ff8000" stroke-width="1.5"/>
<rect x="643.8" y="758.4" width="15.5" height="19" fill="#fff" stroke="#ff8000" stroke-width="1.5"/><rect x="643.8" y="758.4" width="15.5" height="9.5" fill="#ff8000" stroke="#ff8000" stroke-width="1.5"/>
<rect x="699.75" y="650" width="15.5" height="19" fill="#fff" stroke="#ff8000" stroke-width="1.5"/><rect x="699.75" y="650" width="15.5" height="9.5" fill="#ff8000" stroke="#ff8000" stroke-width="1.5"/>
<rect x="755.7" y="553.6" width="15.5" height="19" fill="#fff" stroke="#ff8000" stroke-width="1.5"/><rect x="755.7" y="553.6" width="15.5" height="9.5" fill="#ff8000" stroke="#ff8000" stroke-width="1.5"/>
<rect x="811.65" y="508" width="15.5" height="19" fill="#fff" stroke="#ff8000" stroke-width="1.5"/><rect x="811.65" y="508" width="15.5" height="9.5" fill="#ff8000" stroke="#ff8000" stroke-width="1.5"/>
<rect x="867.6" y="520.2" width="15.5" height="19" fill="#fff" stroke="#ff8000" stroke-width="1.5"/><rect x="867.6" y="520.2" width="15.5" height="9.5" fill="#ff8000" stroke="#ff8000" stroke-width="1.5"/>
<rect x="923.55" y="571.4" width="15.5" height="19" fill="#fff" stroke="#ff8000" stroke-width="1.5"/><rect x="923.55" y="571.4" width="15.5" height="9.5" fill="#ff8000" stroke="#ff8000" stroke-width="1.5"/>
<rect x="979.5" y="630.5" width="15.5" height="19" fill="#fff" stroke="#ff8000" stroke-width="1.5"/><rect x="979.5" y="630.5" width="15.5" height="9.5" fill="#ff8000" stroke="#ff8000" stroke-width="1.5"/>
<rect x="1035.45" y="687" width="15.5" height="19" fill="#fff" stroke="#ff8000" stroke-width="1.5"/><rect x="1035.45" y="687" width="15.5" height="9.5" fill="#ff8000" stroke="#ff8000" stroke-width="1.5"/>
<rect x="1091.4" y="736" width="15.5" height="19" fill="#fff" stroke="#ff8000" stroke-width="1.5"/><rect x="1091.4" y="736" width="15.5" height="9.5" fill="#ff8000" stroke="#ff8000" stroke-width="1.5"/>
<rect x="1147.35" y="777" width="15.5" height="19" fill="#fff" stroke="#ff8000" stroke-width="1.5"/><rect x="1147.35" y="777" width="15.5" height="9.5" fill="#ff8000" stroke="#ff8000" stroke-width="1.5"/>
<rect x="1203.3" y="811.4" width="15.5" height="19" fill="#fff" stroke="#ff8000" stroke-width="1.5"/><rect x="1203.3" y="811.4" width="15.5" height="9.5" fill="#ff8000" stroke="#ff8000" stroke-width="1.5"/>
<rect x="1259.25" y="837" width="15.5" height="19" fill="#fff" stroke="#ff8000" stroke-width="1.5"/><rect x="1259.25" y="837" width="15.5" height="9.5" fill="#ff8000" stroke="#ff8000" stroke-width="1.5"/>
<rect x="1315.2" y="853" width="15.5" height="19" fill="#fff" stroke="#ff8000" stroke-width="1.5"/><rect x="1315.2" y="853" width="15.5" height="9.5" fill="#ff8000" stroke="#ff8000" stroke-width="1.5"/>
<rect x="1371.15" y="862.2" width="15.5" height="19" fill="#fff" stroke="#ff8000" stroke-width="1.5"/><rect x="1371.15" y="862.2" width="15.5" height="9.5" fill="#ff8000" stroke="#ff8000" stroke-width="1.5"/>
<rect x="1427.1" y="869.8" width="15.5" height="19" fill="#fff" stroke="#ff8000" stroke-width="1.5"/><rect x="1427.1" y="869.8" width="15.5" height="9.5" fill="#ff8000" stroke="#ff8000" stroke-width="1.5"/>
<rect x="1483.05" y="875.6" width="15.5" height="19" fill="#fff" stroke="#ff8000" stroke-width="1.5"/><rect x="1483.05" y="875.6" width="15.5" height="9.5" fill="#ff8000" stroke="#ff8000" stroke-width="1.5"/>
<path d="M203.95,874 208.95,875.52 213.95,877.01 218.95,878.45 223.95,879.82 228.95,881.09 233.95,882.25 238.95,883.27 243.95,884.14 248.95,884.82 253.95,885.31 258.95,885.58 263.95,885.68 268.95,885.77 273.95,885.86 278.95,885.93 283.95,886 288.95,886.05 293.95,886.1 298.95,886.14 303.95,886.17 308.95,886.19 313.95,886.2 318.95,886.2 323.95,886.18 328.95,886.15 333.95,886.11 338.95,886.06 343.95,886.01 348.95,885.94 353.95,885.87 358.95,885.8 363.95,885.72 368.95,885.64 373.95,885.56 378.95,885.47 383.95,885.35 388.95,885.22 393.95,885.08 398.95,884.93 403.95,884.77 408.95,884.61 413.95,884.44 418.95,884.28 423.95,884.12 428.95,883.96 433.95,883.82 438.95,883.69 443.95,883.57 448.95,883.44 453.95,883.31 458.95,883.17 463.95,883.02 468.95,882.85 473.95,882.66 478.95,882.44 483.95,882.19 488.95,881.86 493.95,881.43 498.95,880.9 503.95,880.27 508.95,879.55 513.95,878.74 518.95,877.84 523.95,876.86 528.95,875.81 533.95,874.67 538.95,873.47 543.95,872.09 548.95,870.36 553.95,868.3 558.95,865.92 563.95,863.26 568.95,860.34 573.95,857.18 578.95,853.81 583.95,850.24 588.95,846.5 593.95,842.61 598.95,838.47 603.95,833.69 608.95,828.32 613.95,822.4 618.95,816.02 623.95,809.23 628.95,802.1 633.95,794.7 638.95,787.08 643.95,779.32 648.95,771.49 653.95,763.55 658.95,755.01 663.95,745.89 668.95,736.29 673.95,726.34 678.95,716.15 683.95,705.83 688.95,695.51 693.95,685.28 698.95,675.27 703.95,665.6 708.95,656.34 713.95,646.97 718.95,637.39 723.95,627.72 728.95,618.09 733.95,608.62 738.95,599.43 743.95,590.65 748.95,582.4 753.95,574.8 758.95,567.97 763.95,562.05 768.95,556.5 773.95,550.99 778.95,545.6 783.95,540.41 788.95,535.52 793.95,531.01 798.95,526.96 803.95,523.45 808.95,520.58 813.95,518.43 818.95,517.08 823.95,516.27 828.95,515.61 833.95,515.24 838.95,515.32 843.95,516.04 848.95,517.32 853.95,519.06 858.95,521.14 863.95,523.48 868.95,525.97 873.95,528.5 878.95,531.17 883.95,534.44 888.95,538.24 893.95,542.51 898.95,547.14 903.95,552.06 908.95,557.19 913.95,562.44 918.95,567.72 923.95,572.96 928.95,578.07 933.95,583.02 938.95,588.07 943.95,593.24 948.95,598.51 953.95,603.85 958.95,609.24 963.95,614.65 968.95,620.06 973.95,625.45 978.95,630.8 983.95,636.07 988.95,641.26 993.95,646.43 998.95,651.62 1003.95,656.8 1008.95,661.97 1013.95,667.11 1018.95,672.21 1023.95,677.25 1028.95,682.24 1033.95,687.15 1038.95,691.98 1043.95,696.7 1048.95,701.37 1053.95,705.98 1058.95,710.55 1063.95,715.06 1068.95,719.52 1073.95,723.91 1078.95,728.24 1083.95,732.5 1088.95,736.69 1093.95,740.81 1098.95,744.84 1103.95,748.8 1108.95,752.71 1113.95,756.55 1118.95,760.34 1123.95,764.07 1128.95,767.74 1133.95,771.35 1138.95,774.91 1143.95,778.4 1148.95,781.85 1153.95,785.23 1158.95,788.57 1163.95,791.89 1168.95,795.17 1173.95,798.42 1178.95,801.61 1183.95,804.75 1188.95,807.83 1193.95,810.83 1198.95,813.74 1203.95,816.57 1208.95,819.29 1213.95,821.92 1218.95,824.51 1223.95,827.06 1228.95,829.56 1233.95,832 1238.95,834.37 1243.95,836.67 1248.95,838.88 1253.95,841 1258.95,843.01 1263.95,844.9 1268.95,846.68 1273.95,848.4 1278.95,850.06 1283.95,851.67 1288.95,853.22 1293.95,854.7 1298.95,856.13 1303.95,857.49 1308.95,858.78 1313.95,860 1318.95,861.14 1323.95,862.21 1328.95,863.21 1333.95,864.15 1338.95,865.04 1343.95,865.89 1348.95,866.71 1353.95,867.49 1358.95,868.25 1363.95,869 1368.95,869.73 1373.95,870.47 1378.95,871.21 1383.95,871.95 1388.95,872.68 1393.95,873.4 1398.95,874.11 1403.95,874.81 1408.95,875.5 1413.95,876.17 1418.95,876.83 1423.95,877.47 1428.95,878.09 1433.95,878.69 1438.95,879.27 1443.95,879.83 1448.95,880.37 1453.95,880.9 1458.95,881.41 1463.95,881.91 1468.95,882.41 1473.95,882.9 1478.95,883.4 1483.95,883.9 1488.95,884.41 1493.95,884.93 1498.95,885.44" stroke="#008000" stroke-width="6.2"/>
<polygon points="203.95,862.8 213.65,868.4 213.65,879.6 203.95,885.2 194.25,879.6 194.25,868.4" fill="#fff" stroke="#008000" stroke-width="1.8" stroke-linejoin="miter"/><polygon points="194.25,874 194.25,868.4 203.95,862.8 213.65,868.4 213.65,874" fill="#008000" stroke="#008000" stroke-width="1.8" stroke-linejoin="miter"/>
<polygon points="259.9,874.4 269.6,880 269.6,891.2 259.9,896.8 250.2,891.2 250.2,880" fill="#fff" stroke="#008000" stroke-width="1.8" stroke-linejoin="miter"/><polygon points="250.2,885.6 250.2,880 259.9,874.4 269.6,880 269.6,885.6" fill="#008000" stroke="#008000" stroke-width="1.8" stroke-linejoin="miter"/>
<polygon points="315.85,875 325.55,880.6 325.55,891.8 315.85,897.4 306.15,891.8 306.15,880.6" fill="#fff" stroke="#008000" stroke-width="1.8" stroke-linejoin="miter"/><polygon points="306.15,886.2 306.15,880.6 315.85,875 325.55,880.6 325.55,886.2" fill="#008000" stroke="#008000" stroke-width="1.8" stroke-linejoin="miter"/>
<polygon points="371.8,874.4 381.5,880 381.5,891.2 371.8,896.8 362.1,891.2 362.1,880" fill="#fff" stroke="#008000" stroke-width="1.8" stroke-linejoin="miter"/><polygon points="362.1,885.6 362.1,880 371.8,874.4 381.5,880 381.5,885.6" fill="#008000" stroke="#008000" stroke-width="1.8" stroke-linejoin="miter"/>
<polygon points="427.75,872.8 437.45,878.4 437.45,889.6 427.75,895.2 418.05,889.6 418.05,878.4" fill="#fff" stroke="#008000" stroke-width="1.8" stroke-linejoin="miter"/><polygon points="418.05,884 418.05,878.4 427.75,872.8 437.45,878.4 437.45,884" fill="#008000" stroke="#008000" stroke-width="1.8" stroke-linejoin="miter"/>
<polygon points="483.7,871 493.4,876.6 493.4,887.8 483.7,893.4 474,887.8 474,876.6" fill="#fff" stroke="#008000" stroke-width="1.8" stroke-linejoin="miter"/><polygon points="474,882.2 474,876.6 483.7,871 493.4,876.6 493.4,882.2" fill="#008000" stroke="#008000" stroke-width="1.8" stroke-linejoin="miter"/>
<polygon points="539.65,862.1 549.35,867.7 549.35,878.9 539.65,884.5 529.95,878.9 529.95,867.7" fill="#fff" stroke="#008000" stroke-width="1.8" stroke-linejoin="miter"/><polygon points="529.95,873.3 529.95,867.7 539.65,862.1 549.35,867.7 549.35,873.3" fill="#008000" stroke="#008000" stroke-width="1.8" stroke-linejoin="miter"/>
<polygon points="595.6,830.1 605.3,835.7 605.3,846.9 595.6,852.5 585.9,846.9 585.9,835.7" fill="#fff" stroke="#008000" stroke-width="1.8" stroke-linejoin="miter"/><polygon points="585.9,841.3 585.9,835.7 595.6,830.1 605.3,835.7 605.3,841.3" fill="#008000" stroke="#008000" stroke-width="1.8" stroke-linejoin="miter"/>
<polygon points="651.55,756.2 661.25,761.8 661.25,773 651.55,778.6 641.85,773 641.85,761.8" fill="#fff" stroke="#008000" stroke-width="1.8" stroke-linejoin="miter"/><polygon points="641.85,767.4 641.85,761.8 651.55,756.2 661.25,761.8 661.25,767.4" fill="#008000" stroke="#008000" stroke-width="1.8" stroke-linejoin="miter"/>
<polygon points="707.5,647.8 717.2,653.4 717.2,664.6 707.5,670.2 697.8,664.6 697.8,653.4" fill="#fff" stroke="#008000" stroke-width="1.8" stroke-linejoin="miter"/><polygon points="697.8,659 697.8,653.4 707.5,647.8 717.2,653.4 717.2,659" fill="#008000" stroke="#008000" stroke-width="1.8" stroke-linejoin="miter"/>
<polygon points="763.45,551.4 773.15,557 773.15,568.2 763.45,573.8 753.75,568.2 753.75,557" fill="#fff" stroke="#008000" stroke-width="1.8" stroke-linejoin="miter"/><polygon points="753.75,562.6 753.75,557 763.45,551.4 773.15,557 773.15,562.6" fill="#008000" stroke="#008000" stroke-width="1.8" stroke-linejoin="miter"/>
<polygon points="819.4,505.8 829.1,511.4 829.1,522.6 819.4,528.2 809.7,522.6 809.7,511.4" fill="#fff" stroke="#008000" stroke-width="1.8" stroke-linejoin="miter"/><polygon points="809.7,517 809.7,511.4 819.4,505.8 829.1,511.4 829.1,517" fill="#008000" stroke="#008000" stroke-width="1.8" stroke-linejoin="miter"/>
<polygon points="875.35,518 885.05,523.6 885.05,534.8 875.35,540.4 865.65,534.8 865.65,523.6" fill="#fff" stroke="#008000" stroke-width="1.8" stroke-linejoin="miter"/><polygon points="865.65,529.2 865.65,523.6 875.35,518 885.05,523.6 885.05,529.2" fill="#008000" stroke="#008000" stroke-width="1.8" stroke-linejoin="miter"/>
<polygon points="931.3,569.2 941,574.8 941,586 931.3,591.6 921.6,586 921.6,574.8" fill="#fff" stroke="#008000" stroke-width="1.8" stroke-linejoin="miter"/><polygon points="921.6,580.4 921.6,574.8 931.3,569.2 941,574.8 941,580.4" fill="#008000" stroke="#008000" stroke-width="1.8" stroke-linejoin="miter"/>
<polygon points="987.25,628.3 996.95,633.9 996.95,645.1 987.25,650.7 977.55,645.1 977.55,633.9" fill="#fff" stroke="#008000" stroke-width="1.8" stroke-linejoin="miter"/><polygon points="977.55,639.5 977.55,633.9 987.25,628.3 996.95,633.9 996.95,639.5" fill="#008000" stroke="#008000" stroke-width="1.8" stroke-linejoin="miter"/>
<polygon points="1043.2,684.8 1052.9,690.4 1052.9,701.6 1043.2,707.2 1033.5,701.6 1033.5,690.4" fill="#fff" stroke="#008000" stroke-width="1.8" stroke-linejoin="miter"/><polygon points="1033.5,696 1033.5,690.4 1043.2,684.8 1052.9,690.4 1052.9,696" fill="#008000" stroke="#008000" stroke-width="1.8" stroke-linejoin="miter"/>
<polygon points="1099.15,733.8 1108.85,739.4 1108.85,750.6 1099.15,756.2 1089.45,750.6 1089.45,739.4" fill="#fff" stroke="#008000" stroke-width="1.8" stroke-linejoin="miter"/><polygon points="1089.45,745 1089.45,739.4 1099.15,733.8 1108.85,739.4 1108.85,745" fill="#008000" stroke="#008000" stroke-width="1.8" stroke-linejoin="miter"/>
<polygon points="1155.1,774.8 1164.8,780.4 1164.8,791.6 1155.1,797.2 1145.4,791.6 1145.4,780.4" fill="#fff" stroke="#008000" stroke-width="1.8" stroke-linejoin="miter"/><polygon points="1145.4,786 1145.4,780.4 1155.1,774.8 1164.8,780.4 1164.8,786" fill="#008000" stroke="#008000" stroke-width="1.8" stroke-linejoin="miter"/>
<polygon points="1211.05,809.2 1220.75,814.8 1220.75,826 1211.05,831.6 1201.35,826 1201.35,814.8" fill="#fff" stroke="#008000" stroke-width="1.8" stroke-linejoin="miter"/><polygon points="1201.35,820.4 1201.35,814.8 1211.05,809.2 1220.75,814.8 1220.75,820.4" fill="#008000" stroke="#008000" stroke-width="1.8" stroke-linejoin="miter"/>
<polygon points="1267,834.8 1276.7,840.4 1276.7,851.6 1267,857.2 1257.3,851.6 1257.3,840.4" fill="#fff" stroke="#008000" stroke-width="1.8" stroke-linejoin="miter"/><polygon points="1257.3,846 1257.3,840.4 1267,834.8 1276.7,840.4 1276.7,846" fill="#008000" stroke="#008000" stroke-width="1.8" stroke-linejoin="miter"/>
<polygon points="1322.95,850.8 1332.65,856.4 1332.65,867.6 1322.95,873.2 1313.25,867.6 1313.25,856.4" fill="#fff" stroke="#008000" stroke-width="1.8" stroke-linejoin="miter"/><polygon points="1313.25,862 1313.25,856.4 1322.95,850.8 1332.65,856.4 1332.65,862" fill="#008000" stroke="#008000" stroke-width="1.8" stroke-linejoin="miter"/>
<polygon points="1378.9,860 1388.6,865.6 1388.6,876.8 1378.9,882.4 1369.2,876.8 1369.2,865.6" fill="#fff" stroke="#008000" stroke-width="1.8" stroke-linejoin="miter"/><polygon points="1369.2,871.2 1369.2,865.6 1378.9,860 1388.6,865.6 1388.6,871.2" fill="#008000" stroke="#008000" stroke-width="1.8" stroke-linejoin="miter"/>
<polygon points="1434.85,867.6 1444.55,873.2 1444.55,884.4 1434.85,890 1425.15,884.4 1425.15,873.2" fill="#fff" stroke="#008000" stroke-width="1.8" stroke-linejoin="miter"/><polygon points="1425.15,878.8 1425.15,873.2 1434.85,867.6 1444.55,873.2 1444.55,878.8" fill="#008000" stroke="#008000" stroke-width="1.8" stroke-linejoin="miter"/>
<polygon points="1490.8,873.4 1500.5,879 1500.5,890.2 1490.8,895.8 1481.1,890.2 1481.1,879" fill="#fff" stroke="#008000" stroke-width="1.8" stroke-linejoin="miter"/><polygon points="1481.1,884.6 1481.1,879 1490.8,873.4 1500.5,879 1500.5,884.6" fill="#008000" stroke="#008000" stroke-width="1.8" stroke-linejoin="miter"/>
</g>
<text x="126.03" y="46" font-size="42.4" font-weight="bold" textLength="52.88" lengthAdjust="spacingAndGlyphs" fill="#000">10</text>
<text x="151.74" y="219.6" font-size="42.4" font-weight="bold" textLength="26.76" lengthAdjust="spacingAndGlyphs" fill="#000">8</text>
<text x="152.03" y="392.4" font-size="42.4" font-weight="bold" textLength="26.28" lengthAdjust="spacingAndGlyphs" fill="#000">6</text>
<text x="152.64" y="563.8" font-size="42.4" font-weight="bold" textLength="24.53" lengthAdjust="spacingAndGlyphs" fill="#000">4</text>
<text x="152.38" y="735.5" font-size="42.4" font-weight="bold" textLength="25.82" lengthAdjust="spacingAndGlyphs" fill="#000">2</text>
<text x="151.03" y="908.6" font-size="42.4" font-weight="bold" textLength="27.4" lengthAdjust="spacingAndGlyphs" fill="#000">0</text>
<text x="340.55" y="1039.2" font-size="42.4" font-weight="bold" textLength="72.02" lengthAdjust="spacingAndGlyphs" fill="#000">450</text>
<text x="620.71" y="1039.2" font-size="42.4" font-weight="bold" textLength="71.86" lengthAdjust="spacingAndGlyphs" fill="#000">500</text>
<text x="900.92" y="1039.2" font-size="42.4" font-weight="bold" textLength="71.44" lengthAdjust="spacingAndGlyphs" fill="#000">550</text>
<text x="1179.87" y="1039.2" font-size="42.4" font-weight="bold" textLength="72.62" lengthAdjust="spacingAndGlyphs" fill="#000">600</text>
<text x="1459.41" y="1039.2" font-size="42.4" font-weight="bold" textLength="70.94" lengthAdjust="spacingAndGlyphs" fill="#000">650</text>
<text x="608.4" y="1135.2" font-size="57" font-weight="bold" textLength="309.73" lengthAdjust="spacingAndGlyphs" fill="#000">Wavelength</text>
<text x="933.17" y="1135.2" font-size="57" font-weight="bold" textLength="122.62" lengthAdjust="spacingAndGlyphs" fill="#000">(nm)</text>
<g transform="translate(58 763.4) rotate(-90)">
<text x="-3.15" y="0" font-size="57" font-weight="bold" textLength="59.56" lengthAdjust="spacingAndGlyphs" fill="#000">PL</text>
<text x="70.13" y="0" font-size="57" font-weight="bold" textLength="227.56" lengthAdjust="spacingAndGlyphs" fill="#000">intensity</text>
<text x="309.89" y="0" font-size="57" font-weight="bold" textLength="134.19" lengthAdjust="spacingAndGlyphs" fill="#000">(a.u.)</text>
</g>
<text x="250.84" y="156.6" font-size="77" textLength="95" lengthAdjust="spacingAndGlyphs" stroke="#000" stroke-width="2.4" stroke-linejoin="round" fill="#000">(a)</text>
<text x="1251.74" y="113.7" font-size="68" font-weight="bold" textLength="189.43" lengthAdjust="spacingAndGlyphs" fill="#000">P2-5%</text>
<text x="354.77" y="368.3" font-size="56" font-weight="bold" textLength="71.76" lengthAdjust="spacingAndGlyphs" fill="#000">Hg</text>
<text x="424.15" y="350" font-size="36" font-weight="bold" textLength="44.1" lengthAdjust="spacingAndGlyphs" fill="#000">2+</text>
<line x1="808" y1="449.5" x2="463.96" y2="211.73" stroke="#000" stroke-width="8.6"/>
<polygon points="443.8,197.8 472.82,202.42 458.38,223.31" fill="#000"/>
<line x1="1237" y1="172.1" x2="1344" y2="172.1" stroke="#00ff00" stroke-width="4.6"/>
<rect x="1277.3" y="160.1" width="24" height="24" fill="#fff" stroke="#00ff00" stroke-width="3"/>
<text x="1353.55" y="188.1" font-size="50.4" textLength="116.81" lengthAdjust="spacingAndGlyphs" fill="#000">Blank</text>
<line x1="1237" y1="239.3" x2="1344" y2="239.3" stroke="#0000ff" stroke-width="4.6"/>
<circle cx="1289.3" cy="239.3" r="13.2" fill="#0000ff"/>
<text x="1353.6" y="254.8" font-size="50.4" textLength="58.92" lengthAdjust="spacingAndGlyphs" fill="#000">Hg</text>
<text x="1414.58" y="233.5" font-size="31.6" textLength="39.14" lengthAdjust="spacingAndGlyphs" fill="#000">2+</text>
<line x1="1237" y1="306" x2="1344" y2="306" stroke="#000000" stroke-width="4.2"/>
<polygon points="1290.3,287 1308.4,318.6 1272.2,318.6" fill="#000"/><polygon points="1290.3,291.83 1304.26,316.2 1276.34,316.2" fill="#fff"/>
<text x="1354.68" y="321.4" font-size="50.4" textLength="62.61" lengthAdjust="spacingAndGlyphs" fill="#000">Mg</text>
<text x="1419.48" y="301.1" font-size="31.6" textLength="39.14" lengthAdjust="spacingAndGlyphs" fill="#000">2+</text>
<line x1="1237" y1="375.8" x2="1344" y2="375.8" stroke="#ff00ff" stroke-width="4.5"/>
<polygon points="1271.5,365.6 1308.2,365.6 1289.85,398.2" fill="#ff00ff"/><polygon points="1275.61,368 1304.09,368 1289.85,393.31" fill="#fff"/>
<text x="1355.12" y="391.8" font-size="50.4" textLength="58.27" lengthAdjust="spacingAndGlyphs" fill="#000">Cd</text>
<text x="1414.58" y="370.6" font-size="31.6" textLength="39.14" lengthAdjust="spacingAndGlyphs" fill="#000">2+</text>
<line x1="1237" y1="443" x2="1344" y2="443" stroke="#000080" stroke-width="4.6"/>
<polygon points="1270.8,443.7 1301,424.4 1301,463" fill="#000080"/><polygon points="1275.26,443.7 1298.6,428.78 1298.6,458.62" fill="#fff"/>
<text x="1355" y="458.5" font-size="50.4" textLength="53.75" lengthAdjust="spacingAndGlyphs" fill="#000">Fe</text>
<text x="1407.9" y="437.2" font-size="31.6" textLength="38.7" lengthAdjust="spacingAndGlyphs" fill="#000">2+</text>
<line x1="1237" y1="510.6" x2="1344" y2="510.6" stroke="#9000ff" stroke-width="4.4"/>
<polygon points="1278.6,491.4 1309.4,511 1278.6,530.6" fill="#9000ff"/><polygon points="1280.9,495.59 1305.12,511 1280.9,526.41" fill="#fff"/>
<text x="1355.08" y="526.1" font-size="50.4" textLength="59.32" lengthAdjust="spacingAndGlyphs" fill="#000">Co</text>
<text x="1414.58" y="505.4" font-size="31.6" textLength="39.14" lengthAdjust="spacingAndGlyphs" fill="#000">2+</text>
<line x1="1237" y1="577.7" x2="1344" y2="577.7" stroke="#a0009a" stroke-width="4.4"/>
<polygon points="1289.3,562.2 1303.59,570.45 1303.59,586.95 1289.3,595.2 1275.01,586.95 1275.01,570.45" fill="#fff" stroke="#a0009a" stroke-width="2.4" stroke-linejoin="miter"/>
<text x="1355.2" y="593.7" font-size="50.4" textLength="56.3" lengthAdjust="spacingAndGlyphs" fill="#000">Cu</text>
<text x="1414.58" y="572.4" font-size="31.6" textLength="39.14" lengthAdjust="spacingAndGlyphs" fill="#000">2+</text>
<line x1="1237" y1="645" x2="1344" y2="645" stroke="#0060a8" stroke-width="4.4"/>
<circle cx="1289.3" cy="646" r="14" fill="#fff" stroke="#0060a8" stroke-width="2.2"/><path d="M1275.3,646 A14,14 0 0 1 1303.3,646 Z" fill="#0060a8" stroke="#0060a8" stroke-width="2.2"/>
<text x="1354.56" y="660.4" font-size="50.4" textLength="56.93" lengthAdjust="spacingAndGlyphs" fill="#000">Pb</text>
<text x="1411.78" y="639.2" font-size="31.6" textLength="37.06" lengthAdjust="spacingAndGlyphs" fill="#000">2+</text>
<line x1="1237" y1="712.2" x2="1344" y2="712.2" stroke="#ff8000" stroke-width="4.1"/>
<rect x="1277.55" y="701.95" width="23.5" height="23.5" fill="#fff" stroke="#ff8000" stroke-width="2.6"/><rect x="1277.55" y="701.95" width="23.5" height="11.75" fill="#ff8000" stroke="#ff8000" stroke-width="2.6"/>
<text x="1354.03" y="728.1" font-size="50.4" textLength="52.68" lengthAdjust="spacingAndGlyphs" fill="#000">Zn</text>
<text x="1407.88" y="706.8" font-size="31.6" textLength="39.14" lengthAdjust="spacingAndGlyphs" fill="#000">2+</text>
<line x1="1237" y1="781.6" x2="1344" y2="781.6" stroke="#008000" stroke-width="4.8"/>
<polygon points="1289.3,765.6 1304.02,774.1 1304.02,791.1 1289.3,799.6 1274.58,791.1 1274.58,774.1" fill="#fff" stroke="#008000" stroke-width="2.4" stroke-linejoin="miter"/><polygon points="1274.58,782.6 1274.58,774.1 1289.3,765.6 1304.02,774.1 1304.02,782.6" fill="#008000" stroke="#008000" stroke-width="2.4" stroke-linejoin="miter"/>
<text x="1354.59" y="797.2" font-size="50.4" textLength="43.6" lengthAdjust="spacingAndGlyphs" fill="#000">Ni</text>
<text x="1398.18" y="775.4" font-size="31.6" textLength="39.25" lengthAdjust="spacingAndGlyphs" fill="#000">2+</text>
<rect x="250.1" y="1548.6" width="110.6" height="580.7" fill="#ff0000" stroke="#000" stroke-width="2.2"/>
<rect x="391.2" y="2108.1" width="111.2" height="21.2" fill="#ff0000" stroke="#000" stroke-width="2.2"/>
<rect x="532.5" y="2108.1" width="110.8" height="21.2" fill="#ff0000" stroke="#000" stroke-width="2.2"/>
<rect x="671.7" y="2108.1" width="113.2" height="21.2" fill="#ff0000" stroke="#000" stroke-width="2.2"/>
<rect x="812.3" y="2108.1" width="113.2" height="21.2" fill="#ff0000" stroke="#000" stroke-width="2.2"/>
<rect x="954" y="2108.1" width="110.8" height="21.2" fill="#ff0000" stroke="#000" stroke-width="2.2"/>
<rect x="1095.5" y="2108.1" width="110.7" height="21.2" fill="#ff0000" stroke="#000" stroke-width="2.2"/>
<rect x="1234.4" y="2108.1" width="112.8" height="21.2" fill="#ff0000" stroke="#000" stroke-width="2.2"/>
<rect x="1375" y="2108.1" width="113.6" height="21.2" fill="#ff0000" stroke="#000" stroke-width="2.2"/>
<rect x="234.5" y="1198" width="1267.1" height="931.3" fill="none" stroke="#000" stroke-width="4.6"/>
<line x1="216.9" y1="2129.3" x2="234.5" y2="2129.3" stroke="#000" stroke-width="4.2"/>
<text x="142.57" y="2137.6" font-size="42.4" font-weight="bold" textLength="60.17" lengthAdjust="spacingAndGlyphs" fill="#000">0.0</text>
<line x1="226" y1="2071.3" x2="234.5" y2="2071.3" stroke="#000" stroke-width="3.8"/>
<line x1="216.9" y1="2013.3" x2="234.5" y2="2013.3" stroke="#000" stroke-width="4.2"/>
<text x="142.59" y="2021.55" font-size="42.4" font-weight="bold" textLength="59.6" lengthAdjust="spacingAndGlyphs" fill="#000">0.5</text>
<line x1="226" y1="1955.35" x2="234.5" y2="1955.35" stroke="#000" stroke-width="3.8"/>
<line x1="216.9" y1="1897.4" x2="234.5" y2="1897.4" stroke="#000" stroke-width="4.2"/>
<text x="141.55" y="1905.5" font-size="42.4" font-weight="bold" textLength="61.22" lengthAdjust="spacingAndGlyphs" fill="#000">1.0</text>
<line x1="226" y1="1839.25" x2="234.5" y2="1839.25" stroke="#000" stroke-width="3.8"/>
<line x1="216.9" y1="1781.1" x2="234.5" y2="1781.1" stroke="#000" stroke-width="4.2"/>
<text x="141.57" y="1789.45" font-size="42.4" font-weight="bold" textLength="60.63" lengthAdjust="spacingAndGlyphs" fill="#000">1.5</text>
<line x1="226" y1="1722.95" x2="234.5" y2="1722.95" stroke="#000" stroke-width="3.8"/>
<line x1="216.9" y1="1664.8" x2="234.5" y2="1664.8" stroke="#000" stroke-width="4.2"/>
<text x="142.79" y="1673.4" font-size="42.4" font-weight="bold" textLength="59.94" lengthAdjust="spacingAndGlyphs" fill="#000">2.0</text>
<line x1="226" y1="1605.7" x2="234.5" y2="1605.7" stroke="#000" stroke-width="3.8"/>
<line x1="216.9" y1="1546.6" x2="234.5" y2="1546.6" stroke="#000" stroke-width="4.2"/>
<text x="142.81" y="1557.35" font-size="42.4" font-weight="bold" textLength="59.38" lengthAdjust="spacingAndGlyphs" fill="#000">2.5</text>
<line x1="226" y1="1488.5" x2="234.5" y2="1488.5" stroke="#000" stroke-width="3.8"/>
<line x1="216.9" y1="1430.4" x2="234.5" y2="1430.4" stroke="#000" stroke-width="4.2"/>
<text x="143.34" y="1441.3" font-size="42.4" font-weight="bold" textLength="59.38" lengthAdjust="spacingAndGlyphs" fill="#000">3.0</text>
<line x1="226" y1="1372.45" x2="234.5" y2="1372.45" stroke="#000" stroke-width="3.8"/>
<line x1="216.9" y1="1314.5" x2="234.5" y2="1314.5" stroke="#000" stroke-width="4.2"/>
<text x="143.35" y="1325.25" font-size="42.4" font-weight="bold" textLength="58.82" lengthAdjust="spacingAndGlyphs" fill="#000">3.5</text>
<line x1="226" y1="1256.25" x2="234.5" y2="1256.25" stroke="#000" stroke-width="3.8"/>
<line x1="216.9" y1="1198" x2="234.5" y2="1198" stroke="#000" stroke-width="4.2"/>
<text x="143.66" y="1209.2" font-size="42.4" font-weight="bold" textLength="59.04" lengthAdjust="spacingAndGlyphs" fill="#000">4.0</text>
<text x="260.43" y="1317.6" font-size="77" textLength="97.11" lengthAdjust="spacingAndGlyphs" stroke="#000" stroke-width="2.4" stroke-linejoin="round" fill="#000">(b)</text>
<g transform="translate(75.3 1799) rotate(-90)">
<text x="-3.32" y="0" font-size="55.5" font-weight="bold" textLength="13.65" lengthAdjust="spacingAndGlyphs" fill="#000">I</text>
<text x="9.15" y="18.4" font-size="55.5" font-weight="bold" textLength="94.16" lengthAdjust="spacingAndGlyphs" fill="#000">450</text>
<text x="118.4" y="7.6" font-size="72" textLength="24.23" lengthAdjust="spacingAndGlyphs" stroke="#000" stroke-width="0.8" stroke-linejoin="round" fill="#000">/</text>
<text x="160.68" y="0" font-size="55.5" font-weight="bold" textLength="13.65" lengthAdjust="spacingAndGlyphs" fill="#000">I</text>
<text x="175.33" y="18.4" font-size="55.5" font-weight="bold" textLength="92.96" lengthAdjust="spacingAndGlyphs" fill="#000">530</text>
</g>
<text x="257.32" y="2213.7" font-size="41.9" font-weight="bold" textLength="52.99" lengthAdjust="spacingAndGlyphs" fill="#000">Hg</text>
<text x="308.13" y="2183.6" font-size="36.6" font-weight="bold" textLength="44.53" lengthAdjust="spacingAndGlyphs" fill="#000">2+</text>
<text x="414.67" y="2215" font-size="41.9" font-weight="bold" textLength="47.84" lengthAdjust="spacingAndGlyphs" fill="#000">Pb</text>
<text x="462.62" y="2184" font-size="36.6" font-weight="bold" textLength="45.07" lengthAdjust="spacingAndGlyphs" fill="#000">2+</text>
<text x="552.42" y="2214.1" font-size="41.9" font-weight="bold" textLength="49.39" lengthAdjust="spacingAndGlyphs" fill="#000">Co</text>
<text x="601.07" y="2185.8" font-size="36.6" font-weight="bold" textLength="43.25" lengthAdjust="spacingAndGlyphs" fill="#000">2+</text>
<text x="681.84" y="2219.2" font-size="41.9" font-weight="bold" textLength="48.54" lengthAdjust="spacingAndGlyphs" fill="#000">Cd</text>
<text x="731.79" y="2188.5" font-size="36.6" font-weight="bold" textLength="42.82" lengthAdjust="spacingAndGlyphs" fill="#000">2+</text>
<text x="821.09" y="2213.1" font-size="41.9" font-weight="bold" textLength="66.57" lengthAdjust="spacingAndGlyphs" fill="#000">Mg</text>
<text x="884.22" y="2183.4" font-size="36.6" font-weight="bold" textLength="45.07" lengthAdjust="spacingAndGlyphs" fill="#000">2+</text>
<text x="969.78" y="2214.8" font-size="41.9" font-weight="bold" textLength="43.25" lengthAdjust="spacingAndGlyphs" fill="#000">Ni</text>
<text x="1012.1" y="2186" font-size="36.6" font-weight="bold" textLength="45.5" lengthAdjust="spacingAndGlyphs" fill="#000">2+</text>
<text x="1109.92" y="2217.1" font-size="41.9" font-weight="bold" textLength="48.11" lengthAdjust="spacingAndGlyphs" fill="#000">Zn</text>
<text x="1158.22" y="2187.9" font-size="36.6" font-weight="bold" textLength="41.74" lengthAdjust="spacingAndGlyphs" fill="#000">2+</text>
<text x="1246.12" y="2217.1" font-size="41.9" font-weight="bold" textLength="42.85" lengthAdjust="spacingAndGlyphs" fill="#000">Fe</text>
<text x="1291.37" y="2187.9" font-size="36.6" font-weight="bold" textLength="43.25" lengthAdjust="spacingAndGlyphs" fill="#000">2+</text>
<text x="1388.53" y="2215.3" font-size="41.9" font-weight="bold" textLength="49.09" lengthAdjust="spacingAndGlyphs" fill="#000">Cu</text>
<text x="1438.51" y="2186.1" font-size="36.6" font-weight="bold" textLength="42.07" lengthAdjust="spacingAndGlyphs" fill="#000">2+</text>
<rect x="554.4" y="1491.1" width="82.4" height="431.2" fill="#ff0000" stroke="#3a3a3a" stroke-width="1.6"/>
<rect x="658.1" y="1585.1" width="83.9" height="337.2" fill="#ff0000" stroke="#3a3a3a" stroke-width="1.6"/>
<rect x="763" y="1591.6" width="83" height="330.7" fill="#ff0000" stroke="#3a3a3a" stroke-width="1.6"/>
<rect x="866.9" y="1609.1" width="83.7" height="313.2" fill="#ff0000" stroke="#3a3a3a" stroke-width="1.6"/>
<rect x="972.5" y="1590.5" width="83" height="331.8" fill="#ff0000" stroke="#3a3a3a" stroke-width="1.6"/>
<rect x="1077.1" y="1618.4" width="81.5" height="303.9" fill="#ff0000" stroke="#3a3a3a" stroke-width="1.6"/>
<rect x="1181.8" y="1616.3" width="82.1" height="306" fill="#ff0000" stroke="#3a3a3a" stroke-width="1.6"/>
<rect x="1284.8" y="1622.5" width="83.7" height="299.8" fill="#ff0000" stroke="#3a3a3a" stroke-width="1.6"/>
<rect x="1389.4" y="1625.6" width="83.8" height="296.7" fill="#ff0000" stroke="#3a3a3a" stroke-width="1.6"/>
<rect x="542.3" y="1231.2" width="940.3" height="691.1" fill="none" stroke="#262626" stroke-width="3.7"/>
<line x1="529.4" y1="1922.3" x2="542.3" y2="1922.3" stroke="#262626" stroke-width="3.3"/>
<text x="473.67" y="1931.3" font-size="30.6" font-weight="bold" textLength="46.06" lengthAdjust="spacingAndGlyphs" fill="#111">0.0</text>
<line x1="536.3" y1="1878.95" x2="542.3" y2="1878.95" stroke="#262626" stroke-width="2.8"/>
<line x1="529.4" y1="1835.6" x2="542.3" y2="1835.6" stroke="#262626" stroke-width="3.3"/>
<text x="473.69" y="1844.6" font-size="30.6" font-weight="bold" textLength="45.62" lengthAdjust="spacingAndGlyphs" fill="#111">0.5</text>
<line x1="536.3" y1="1792.7" x2="542.3" y2="1792.7" stroke="#262626" stroke-width="2.8"/>
<line x1="529.4" y1="1749.8" x2="542.3" y2="1749.8" stroke="#262626" stroke-width="3.3"/>
<text x="472.89" y="1758.8" font-size="30.6" font-weight="bold" textLength="46.86" lengthAdjust="spacingAndGlyphs" fill="#111">1.0</text>
<line x1="536.3" y1="1706.65" x2="542.3" y2="1706.65" stroke="#262626" stroke-width="2.8"/>
<line x1="529.4" y1="1663.5" x2="542.3" y2="1663.5" stroke="#262626" stroke-width="3.3"/>
<text x="472.91" y="1672.5" font-size="30.6" font-weight="bold" textLength="46.41" lengthAdjust="spacingAndGlyphs" fill="#111">1.5</text>
<line x1="536.3" y1="1620.45" x2="542.3" y2="1620.45" stroke="#262626" stroke-width="2.8"/>
<line x1="529.4" y1="1577.4" x2="542.3" y2="1577.4" stroke="#262626" stroke-width="3.3"/>
<text x="473.84" y="1586.4" font-size="30.6" font-weight="bold" textLength="45.88" lengthAdjust="spacingAndGlyphs" fill="#111">2.0</text>
<line x1="536.3" y1="1533.6" x2="542.3" y2="1533.6" stroke="#262626" stroke-width="2.8"/>
<line x1="529.4" y1="1489.8" x2="542.3" y2="1489.8" stroke="#262626" stroke-width="3.3"/>
<text x="473.86" y="1498.8" font-size="30.6" font-weight="bold" textLength="45.45" lengthAdjust="spacingAndGlyphs" fill="#111">2.5</text>
<line x1="536.3" y1="1446.65" x2="542.3" y2="1446.65" stroke="#262626" stroke-width="2.8"/>
<line x1="529.4" y1="1403.5" x2="542.3" y2="1403.5" stroke="#262626" stroke-width="3.3"/>
<text x="474.26" y="1412.5" font-size="30.6" font-weight="bold" textLength="45.45" lengthAdjust="spacingAndGlyphs" fill="#111">3.0</text>
<line x1="536.3" y1="1360.6" x2="542.3" y2="1360.6" stroke="#262626" stroke-width="2.8"/>
<line x1="529.4" y1="1317.7" x2="542.3" y2="1317.7" stroke="#262626" stroke-width="3.3"/>
<text x="474.27" y="1326.7" font-size="30.6" font-weight="bold" textLength="45.03" lengthAdjust="spacingAndGlyphs" fill="#111">3.5</text>
<line x1="536.3" y1="1274.45" x2="542.3" y2="1274.45" stroke="#262626" stroke-width="2.8"/>
<line x1="529.4" y1="1231.2" x2="542.3" y2="1231.2" stroke="#262626" stroke-width="3.3"/>
<text x="474.51" y="1240.2" font-size="30.6" font-weight="bold" textLength="45.19" lengthAdjust="spacingAndGlyphs" fill="#111">4.0</text>
<line x1="594.7" y1="1922.3" x2="594.7" y2="1937.3" stroke="#262626" stroke-width="3.3"/>
<line x1="699.2" y1="1922.3" x2="699.2" y2="1937.3" stroke="#262626" stroke-width="3.3"/>
<line x1="803.7" y1="1922.3" x2="803.7" y2="1937.3" stroke="#262626" stroke-width="3.3"/>
<line x1="908.2" y1="1922.3" x2="908.2" y2="1937.3" stroke="#262626" stroke-width="3.3"/>
<line x1="1012.7" y1="1922.3" x2="1012.7" y2="1937.3" stroke="#262626" stroke-width="3.3"/>
<line x1="1117.2" y1="1922.3" x2="1117.2" y2="1937.3" stroke="#262626" stroke-width="3.3"/>
<line x1="1221.7" y1="1922.3" x2="1221.7" y2="1937.3" stroke="#262626" stroke-width="3.3"/>
<line x1="1326.2" y1="1922.3" x2="1326.2" y2="1937.3" stroke="#262626" stroke-width="3.3"/>
<line x1="1430.7" y1="1922.3" x2="1430.7" y2="1937.3" stroke="#262626" stroke-width="3.3"/>
<line x1="542.3" y1="1922.3" x2="542.3" y2="1930.2" stroke="#262626" stroke-width="2.8"/>
<line x1="646.8" y1="1922.3" x2="646.8" y2="1930.2" stroke="#262626" stroke-width="2.8"/>
<line x1="751.3" y1="1922.3" x2="751.3" y2="1930.2" stroke="#262626" stroke-width="2.8"/>
<line x1="855.8" y1="1922.3" x2="855.8" y2="1930.2" stroke="#262626" stroke-width="2.8"/>
<line x1="960.3" y1="1922.3" x2="960.3" y2="1930.2" stroke="#262626" stroke-width="2.8"/>
<line x1="1064.8" y1="1922.3" x2="1064.8" y2="1930.2" stroke="#262626" stroke-width="2.8"/>
<line x1="1169.3" y1="1922.3" x2="1169.3" y2="1930.2" stroke="#262626" stroke-width="2.8"/>
<line x1="1273.8" y1="1922.3" x2="1273.8" y2="1930.2" stroke="#262626" stroke-width="2.8"/>
<line x1="1378.3" y1="1922.3" x2="1378.3" y2="1930.2" stroke="#262626" stroke-width="2.8"/>
<line x1="1482.6" y1="1922.3" x2="1482.6" y2="1930.2" stroke="#262626" stroke-width="2.8"/>
<g transform="translate(426.4 1676) rotate(-90)">
<text x="-2.46" y="0" font-size="42" font-weight="bold" textLength="10.14" lengthAdjust="spacingAndGlyphs" fill="#111">I</text>
<text x="6.35" y="14.1" font-size="42" font-weight="bold" textLength="72.74" lengthAdjust="spacingAndGlyphs" fill="#111">450</text>
<text x="89.3" y="5.6" font-size="54" textLength="17.42" lengthAdjust="spacingAndGlyphs" stroke="#111" stroke-width="0.6" stroke-linejoin="round" fill="#111">/</text>
<text x="119.54" y="0" font-size="42" font-weight="bold" textLength="10.14" lengthAdjust="spacingAndGlyphs" fill="#111">I</text>
<text x="129.75" y="14.1" font-size="42" font-weight="bold" textLength="69.77" lengthAdjust="spacingAndGlyphs" fill="#111">530</text>
</g>
<text x="557.25" y="1987.9" font-size="31.4" font-weight="bold" textLength="40.44" lengthAdjust="spacingAndGlyphs" fill="#111">Hg</text>
<text x="597.24" y="1965.3" font-size="27.3" font-weight="bold" textLength="31.12" lengthAdjust="spacingAndGlyphs" fill="#111">2+</text>
<text x="674.25" y="1989.5" font-size="31.4" font-weight="bold" textLength="36.92" lengthAdjust="spacingAndGlyphs" fill="#111">Pb</text>
<text x="710.59" y="1966.5" font-size="27.3" font-weight="bold" textLength="32.84" lengthAdjust="spacingAndGlyphs" fill="#111">2+</text>
<text x="776.49" y="1988.8" font-size="31.4" font-weight="bold" textLength="36.86" lengthAdjust="spacingAndGlyphs" fill="#111">Co</text>
<text x="813.66" y="1966" font-size="27.3" font-weight="bold" textLength="30.48" lengthAdjust="spacingAndGlyphs" fill="#111">2+</text>
<text x="872.38" y="1992" font-size="31.4" font-weight="bold" textLength="37.47" lengthAdjust="spacingAndGlyphs" fill="#111">Cd</text>
<text x="909.21" y="1970.5" font-size="27.3" font-weight="bold" textLength="32.19" lengthAdjust="spacingAndGlyphs" fill="#111">2+</text>
<text x="975.47" y="1986.9" font-size="31.4" font-weight="bold" textLength="49.82" lengthAdjust="spacingAndGlyphs" fill="#111">Mg</text>
<text x="1025.44" y="1965" font-size="27.3" font-weight="bold" textLength="31.12" lengthAdjust="spacingAndGlyphs" fill="#111">2+</text>
<text x="1087.1" y="1988.8" font-size="31.4" font-weight="bold" textLength="31.07" lengthAdjust="spacingAndGlyphs" fill="#111">Ni</text>
<text x="1119.74" y="1966.5" font-size="27.3" font-weight="bold" textLength="31.12" lengthAdjust="spacingAndGlyphs" fill="#111">2+</text>
<text x="1191.36" y="1990.4" font-size="31.4" font-weight="bold" textLength="34.16" lengthAdjust="spacingAndGlyphs" fill="#111">Zn</text>
<text x="1226.64" y="1968.5" font-size="27.3" font-weight="bold" textLength="31.12" lengthAdjust="spacingAndGlyphs" fill="#111">2+</text>
<text x="1291.74" y="1990.4" font-size="31.4" font-weight="bold" textLength="32.22" lengthAdjust="spacingAndGlyphs" fill="#111">Fe</text>
<text x="1325.82" y="1968.5" font-size="27.3" font-weight="bold" textLength="31.76" lengthAdjust="spacingAndGlyphs" fill="#111">2+</text>
<text x="1397.22" y="1988.8" font-size="31.4" font-weight="bold" textLength="35.95" lengthAdjust="spacingAndGlyphs" fill="#111">Cu</text>
<text x="1434.37" y="1966.8" font-size="27.3" font-weight="bold" textLength="30.37" lengthAdjust="spacingAndGlyphs" fill="#111">2+</text>
</svg>
</body>
</html>
